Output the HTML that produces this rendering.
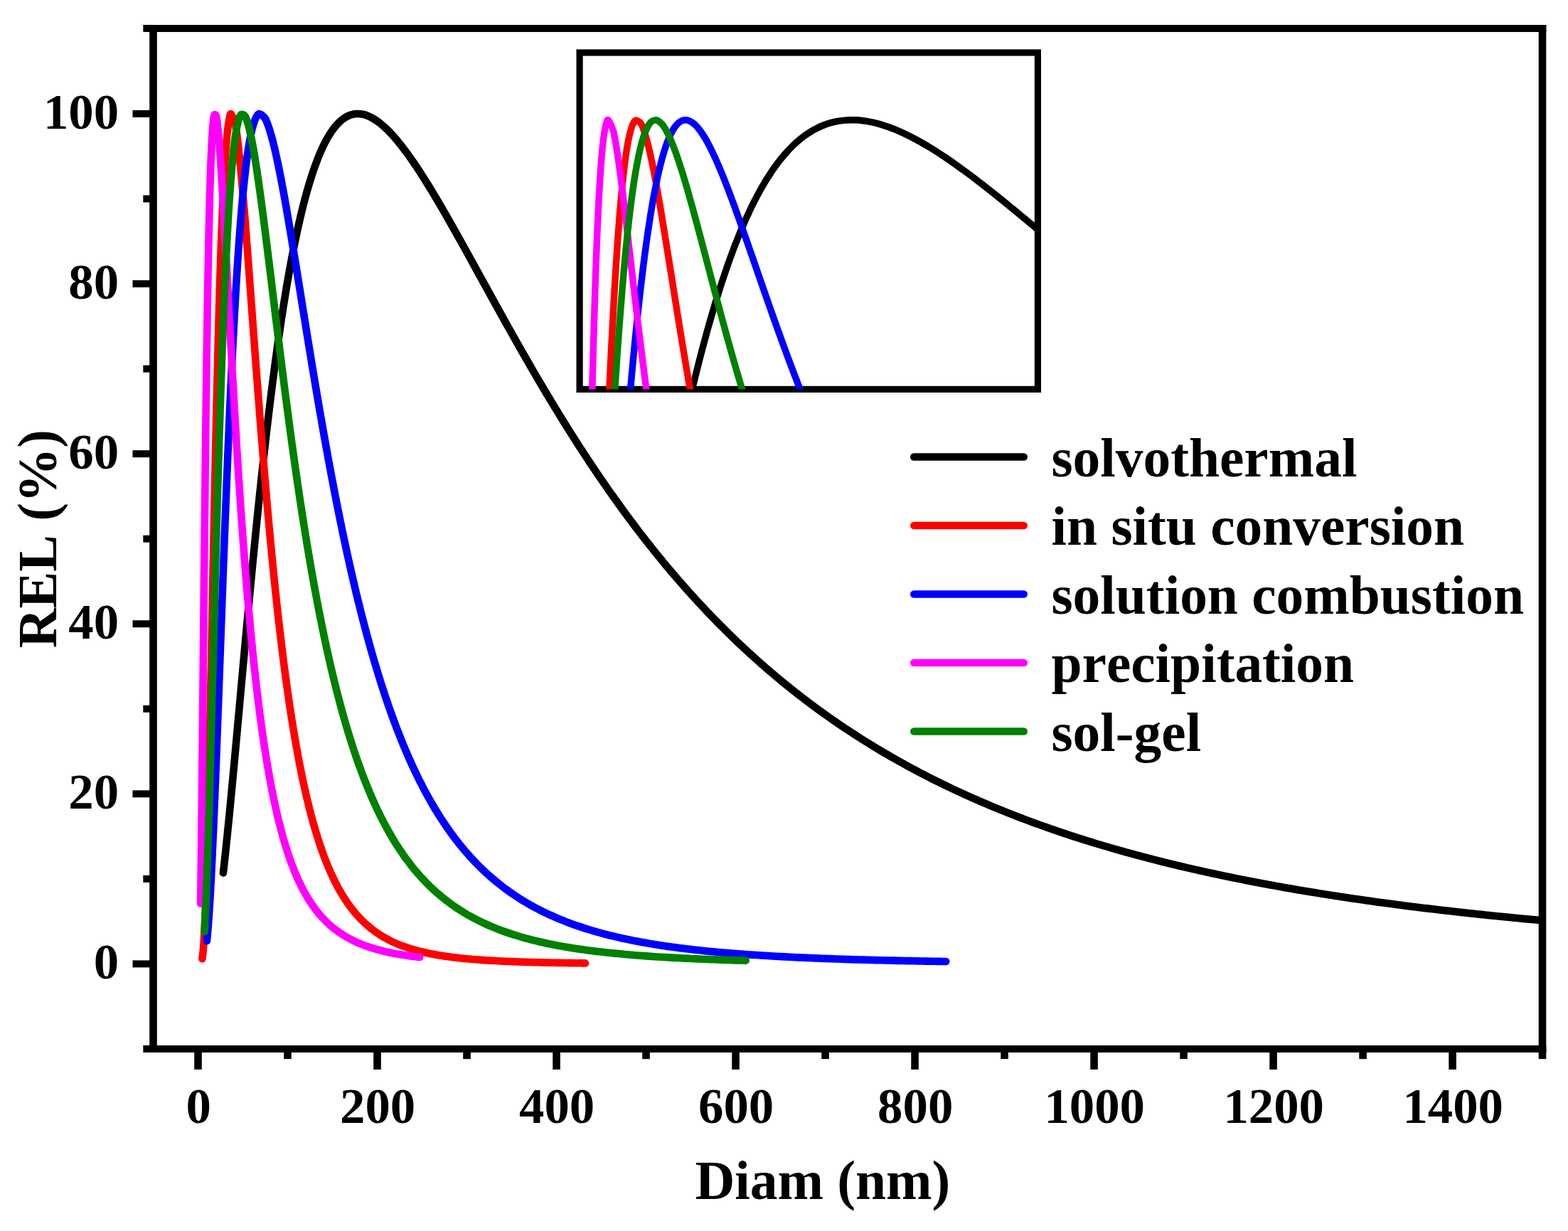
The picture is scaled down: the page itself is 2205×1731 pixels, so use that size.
<!DOCTYPE html>
<html lang="en">
<head>
<meta charset="utf-8">
<title>REL vs Diam</title>
<style>
html,body{margin:0;padding:0;background:#fff;}
body{width:2205px;height:1731px;overflow:hidden;}
svg{display:block;}
text{font-family:"Liberation Serif","Times New Roman",Times,serif;font-weight:bold;fill:#000;font-kerning:none;}
</style>
</head>
<body>
<svg width="2205" height="1731" viewBox="0 0 2205 1731">
<rect width="2205" height="1731" fill="#fff"/>
<defs>
<clipPath id="cm"><rect x="215.5" y="40.0" width="1953.5" height="1435.0"/></clipPath>
<clipPath id="ci"><rect x="815.1" y="74.0" width="644.3" height="473.4"/></clipPath>
</defs>
<g id="frame" stroke="#000" stroke-linecap="butt">
<line x1="210.20" y1="39.95" x2="2174.30" y2="39.95" stroke-width="10.00"/>
<line x1="210.20" y1="1474.94" x2="2174.30" y2="1474.94" stroke-width="10.00"/>
<line x1="215.50" y1="34.95" x2="215.50" y2="1479.94" stroke-width="10.60"/>
<line x1="2169.00" y1="34.95" x2="2169.00" y2="1479.94" stroke-width="10.60"/>
</g>
<g id="ticks" stroke="#000" stroke-linecap="butt">
<line x1="278.50" y1="1474.94" x2="278.50" y2="1503.94" stroke-width="10.60"/>
<line x1="404.51" y1="1474.94" x2="404.51" y2="1489.14" stroke-width="10.60"/>
<line x1="530.51" y1="1474.94" x2="530.51" y2="1503.94" stroke-width="10.60"/>
<line x1="656.52" y1="1474.94" x2="656.52" y2="1489.14" stroke-width="10.60"/>
<line x1="782.53" y1="1474.94" x2="782.53" y2="1503.94" stroke-width="10.60"/>
<line x1="908.53" y1="1474.94" x2="908.53" y2="1489.14" stroke-width="10.60"/>
<line x1="1034.54" y1="1474.94" x2="1034.54" y2="1503.94" stroke-width="10.60"/>
<line x1="1160.55" y1="1474.94" x2="1160.55" y2="1489.14" stroke-width="10.60"/>
<line x1="1286.56" y1="1474.94" x2="1286.56" y2="1503.94" stroke-width="10.60"/>
<line x1="1412.56" y1="1474.94" x2="1412.56" y2="1489.14" stroke-width="10.60"/>
<line x1="1538.57" y1="1474.94" x2="1538.57" y2="1503.94" stroke-width="10.60"/>
<line x1="1664.58" y1="1474.94" x2="1664.58" y2="1489.14" stroke-width="10.60"/>
<line x1="1790.58" y1="1474.94" x2="1790.58" y2="1503.94" stroke-width="10.60"/>
<line x1="1916.59" y1="1474.94" x2="1916.59" y2="1489.14" stroke-width="10.60"/>
<line x1="2042.60" y1="1474.94" x2="2042.60" y2="1503.94" stroke-width="10.60"/>
<line x1="2169.00" y1="1474.94" x2="2169.00" y2="1489.14" stroke-width="10.60"/>
<line x1="215.50" y1="1474.94" x2="201.30" y2="1474.94" stroke-width="10.00"/>
<line x1="215.50" y1="1355.40" x2="186.50" y2="1355.40" stroke-width="10.00"/>
<line x1="215.50" y1="1235.86" x2="201.30" y2="1235.86" stroke-width="10.00"/>
<line x1="215.50" y1="1116.32" x2="186.50" y2="1116.32" stroke-width="10.00"/>
<line x1="215.50" y1="996.78" x2="201.30" y2="996.78" stroke-width="10.00"/>
<line x1="215.50" y1="877.24" x2="186.50" y2="877.24" stroke-width="10.00"/>
<line x1="215.50" y1="757.70" x2="201.30" y2="757.70" stroke-width="10.00"/>
<line x1="215.50" y1="638.16" x2="186.50" y2="638.16" stroke-width="10.00"/>
<line x1="215.50" y1="518.62" x2="201.30" y2="518.62" stroke-width="10.00"/>
<line x1="215.50" y1="399.08" x2="186.50" y2="399.08" stroke-width="10.00"/>
<line x1="215.50" y1="279.54" x2="201.30" y2="279.54" stroke-width="10.00"/>
<line x1="215.50" y1="160.00" x2="186.50" y2="160.00" stroke-width="10.00"/>
<line x1="215.50" y1="39.95" x2="201.30" y2="39.95" stroke-width="10.00"/>
</g>
<g id="xlabels" font-size="70.8" text-anchor="middle">
<text x="279.1" y="1578.5">0</text>
<text x="531.1" y="1578.5">200</text>
<text x="783.1" y="1578.5">400</text>
<text x="1035.1" y="1578.5">600</text>
<text x="1287.2" y="1578.5">800</text>
<text x="1539.2" y="1578.5">1000</text>
<text x="1791.2" y="1578.5">1200</text>
<text x="2043.2" y="1578.5">1400</text>
</g>
<g id="ylabels" font-size="70.8" text-anchor="end">
<text x="167.1" y="1376.3">0</text>
<text x="167.1" y="1137.2">20</text>
<text x="167.1" y="898.1">40</text>
<text x="167.1" y="659.1">60</text>
<text x="167.1" y="420.0">80</text>
<text x="167.1" y="180.9">100</text>
</g>
<text id="xtitle" x="977.4" y="1685.7" font-size="77.4">Diam (nm)</text>
<text id="ytitle" transform="translate(79.1 911.3) rotate(-90)" font-size="77.4">REL (%)</text>
<g id="curves" fill="none" stroke-width="10.60" stroke-linecap="round" stroke-linejoin="round" clip-path="url(#cm)">
<path stroke="#000000" d="M313.92 1227.49C314.07 1226.15 314.53 1222.13 314.83 1219.46C315.13 1216.78 315.43 1214.10 315.72 1211.43C316.01 1208.75 316.31 1206.07 316.59 1203.40C316.88 1200.73 317.17 1198.05 317.45 1195.38C317.73 1192.71 318.02 1190.03 318.29 1187.36C318.57 1184.69 318.85 1182.02 319.13 1179.35C319.40 1176.68 319.67 1174.01 319.94 1171.34C320.22 1168.67 320.49 1166.00 320.75 1163.33C321.02 1160.67 321.29 1158.00 321.55 1155.33C321.82 1152.66 322.08 1150.00 322.35 1147.33C322.61 1144.66 322.87 1142.00 323.13 1139.33C323.39 1136.67 323.65 1134.00 323.91 1131.34C324.16 1128.67 324.42 1126.01 324.68 1123.34C324.93 1120.68 325.19 1118.01 325.44 1115.35C325.69 1112.69 325.95 1110.02 326.20 1107.36C326.45 1104.70 326.70 1102.04 326.95 1099.37C327.20 1096.71 327.45 1094.05 327.70 1091.39C327.95 1088.72 328.20 1086.06 328.45 1083.40C328.70 1080.74 328.95 1078.08 329.19 1075.42C329.44 1072.76 329.69 1070.10 329.93 1067.44C330.18 1064.78 330.42 1062.12 330.67 1059.46C330.91 1056.80 331.16 1054.14 331.40 1051.48C331.65 1048.82 331.89 1046.16 332.13 1043.50C332.38 1040.84 332.62 1038.18 332.86 1035.53C333.11 1032.87 333.35 1030.21 333.59 1027.55C333.84 1024.89 334.08 1022.24 334.32 1019.58C334.56 1016.92 334.80 1014.26 335.05 1011.61C335.29 1008.95 335.53 1006.29 335.77 1003.64C336.01 1000.98 336.25 998.32 336.50 995.67C336.74 993.01 336.98 990.35 337.22 987.70C337.46 985.04 337.70 982.39 337.94 979.73C338.18 977.07 338.43 974.42 338.67 971.76C338.91 969.11 339.15 966.45 339.39 963.80C339.63 961.14 339.87 958.49 340.11 955.83C340.36 953.18 340.60 950.53 340.84 947.87C341.08 945.22 341.32 942.56 341.57 939.91C341.81 937.26 342.05 934.60 342.29 931.95C342.53 929.29 342.78 926.64 343.02 923.99C343.26 921.34 343.51 918.68 343.75 916.03C343.99 913.38 344.24 910.72 344.48 908.07C344.72 905.42 344.97 902.77 345.21 900.11C345.46 897.46 345.70 894.81 345.94 892.16C346.19 889.51 346.44 886.86 346.68 884.20C346.93 881.55 347.17 878.90 347.42 876.25C347.66 873.60 347.91 870.95 348.16 868.30C348.41 865.65 348.65 863.00 348.90 860.35C349.15 857.70 349.40 855.05 349.65 852.40C349.90 849.75 350.14 847.10 350.39 844.45C350.64 841.80 350.89 839.15 351.15 836.50C351.40 833.85 351.65 831.20 351.90 828.55C352.15 825.90 352.40 823.25 352.66 820.60C352.91 817.96 353.16 815.31 353.42 812.66C353.67 810.01 353.93 807.36 354.18 804.71C354.44 802.07 354.69 799.42 354.95 796.77C355.21 794.12 355.46 791.48 355.72 788.83C355.98 786.18 356.24 783.54 356.50 780.89C356.76 778.24 357.02 775.60 357.28 772.95C357.54 770.30 357.80 767.66 358.06 765.01C358.32 762.37 358.59 759.72 358.85 757.07C359.11 754.43 359.38 751.78 359.64 749.14C359.91 746.49 360.17 743.85 360.44 741.20C360.71 738.56 360.98 735.92 361.25 733.27C361.51 730.63 361.78 727.98 362.05 725.34C362.32 722.70 362.60 720.05 362.87 717.41C363.14 714.77 363.41 712.12 363.69 709.48C363.96 706.84 364.24 704.19 364.52 701.55C364.79 698.91 365.07 696.27 365.35 693.63C365.63 690.98 365.91 688.34 366.19 685.70C366.47 683.06 366.75 680.42 367.03 677.78C367.31 675.14 367.60 672.50 367.88 669.86C368.17 667.22 368.46 664.58 368.74 661.94C369.03 659.30 369.32 656.66 369.61 654.02C369.90 651.38 370.19 648.74 370.48 646.10C370.78 643.46 371.07 640.82 371.36 638.18C371.66 635.55 371.96 632.91 372.25 630.27C372.55 627.63 372.85 625.00 373.15 622.36C373.45 619.72 373.75 617.09 374.06 614.45C374.36 611.81 374.67 609.18 374.97 606.54C375.28 603.91 375.59 601.27 375.90 598.64C376.21 596.00 376.52 593.37 376.83 590.73C377.15 588.10 377.46 585.47 377.78 582.83C378.09 580.20 378.41 577.57 378.73 574.93C379.05 572.30 379.37 569.67 379.70 567.04C380.02 564.41 380.34 561.78 380.67 559.14C381.00 556.51 381.33 553.88 381.66 551.25C381.99 548.62 382.32 545.99 382.66 543.36C382.99 540.74 383.33 538.11 383.67 535.48C384.01 532.85 384.35 530.22 384.69 527.60C385.04 524.97 385.38 522.34 385.73 519.71C386.08 517.09 386.43 514.46 386.78 511.84C387.13 509.21 387.49 506.59 387.84 503.96C388.20 501.34 388.56 498.72 388.92 496.09C389.29 493.47 389.65 490.85 390.02 488.23C390.39 485.61 390.76 482.98 391.13 480.36C391.50 477.74 391.88 475.12 392.26 472.50C392.63 469.89 393.02 467.27 393.40 464.65C393.79 462.03 394.17 459.42 394.56 456.80C394.95 454.18 395.35 451.57 395.74 448.95C396.14 446.34 396.54 443.73 396.95 441.11C397.35 438.50 397.76 435.89 398.17 433.28C398.58 430.67 398.99 428.06 399.41 425.45C399.83 422.84 400.25 420.23 400.68 417.62C401.10 415.01 401.53 412.41 401.97 409.80C402.40 407.20 402.84 404.59 403.28 401.99C403.72 399.39 404.17 396.79 404.62 394.18C405.07 391.58 405.53 388.98 405.99 386.39C406.45 383.79 406.92 381.19 407.39 378.60C407.86 376.00 408.33 373.41 408.81 370.82C409.30 368.22 409.78 365.63 410.27 363.04C410.77 360.45 411.26 357.87 411.77 355.28C412.27 352.69 412.78 350.11 413.30 347.53C413.82 344.95 414.34 342.37 414.87 339.79C415.40 337.21 415.93 334.63 416.48 332.06C417.02 329.49 417.57 326.91 418.13 324.34C418.69 321.78 419.26 319.21 419.83 316.64C420.41 314.08 420.99 311.52 421.58 308.96C422.17 306.40 422.77 303.85 423.39 301.30C424.00 298.74 424.62 296.20 425.25 293.65C425.88 291.11 426.52 288.56 427.17 286.03C427.83 283.49 428.49 280.96 429.17 278.43C429.84 275.90 430.53 273.38 431.23 270.86C431.94 268.34 432.65 265.82 433.38 263.32C434.11 260.81 434.86 258.31 435.62 255.81C436.38 253.32 437.16 250.83 437.96 248.35C438.75 245.87 439.57 243.40 440.40 240.93C441.24 238.47 442.09 236.02 442.97 233.57C443.85 231.13 444.75 228.70 445.68 226.28C446.60 223.86 447.55 221.45 448.54 219.06C449.52 216.67 450.53 214.29 451.57 211.94C452.62 209.58 453.70 207.24 454.82 204.93C455.94 202.62 457.09 200.32 458.30 198.06C459.51 195.81 460.76 193.57 462.07 191.38C463.38 189.20 464.73 187.04 466.17 184.95C467.60 182.85 469.09 180.80 470.68 178.83C472.26 176.87 473.91 174.95 475.68 173.16C477.44 171.38 479.29 169.65 481.27 168.12C483.26 166.59 485.35 165.15 487.57 163.99C489.80 162.82 492.17 161.80 494.63 161.14C497.09 160.48 499.73 160.06 502.34 160.01C504.96 159.95 507.71 160.25 510.34 160.80C512.98 161.35 515.63 162.27 518.16 163.32C520.69 164.37 523.15 165.70 525.52 167.11C527.89 168.52 530.17 170.11 532.38 171.75C534.59 173.39 536.71 175.16 538.78 176.96C540.85 178.76 542.84 180.65 544.80 182.57C546.75 184.48 548.64 186.45 550.50 188.45C552.35 190.44 554.16 192.48 555.94 194.54C557.71 196.60 559.45 198.69 561.16 200.79C562.87 202.89 564.55 205.02 566.20 207.17C567.86 209.31 569.48 211.47 571.09 213.64C572.69 215.81 574.28 218.00 575.84 220.20C577.41 222.40 578.95 224.61 580.48 226.83C582.01 229.05 583.52 231.27 585.02 233.51C586.52 235.75 588.00 237.99 589.47 240.24C590.94 242.49 592.40 244.75 593.85 247.01C595.29 249.28 596.73 251.55 598.16 253.82C599.58 256.10 601.00 258.38 602.41 260.66C603.81 262.94 605.21 265.23 606.60 267.52C607.99 269.82 609.38 272.11 610.75 274.41C612.13 276.71 613.50 279.01 614.86 281.32C616.22 283.62 617.58 285.93 618.93 288.24C620.28 290.55 621.63 292.87 622.97 295.18C624.31 297.50 625.65 299.82 626.98 302.13C628.31 304.45 629.64 306.78 630.97 309.10C632.29 311.42 633.61 313.75 634.93 316.07C636.25 318.40 637.56 320.73 638.87 323.05C640.18 325.38 641.49 327.71 642.80 330.04C644.10 332.37 645.40 334.71 646.71 337.04C648.01 339.37 649.31 341.70 650.60 344.04C651.90 346.37 653.19 348.71 654.49 351.04C655.78 353.38 657.07 355.71 658.37 358.05C659.66 360.38 660.95 362.72 662.24 365.06C663.53 367.39 664.81 369.73 666.10 372.07C667.39 374.40 668.67 376.74 669.96 379.08C671.25 381.41 672.53 383.75 673.82 386.09C675.10 388.42 676.39 390.76 677.67 393.10C678.96 395.43 680.25 397.77 681.53 400.10C682.82 402.44 684.10 404.78 685.39 407.11C686.67 409.45 687.96 411.78 689.25 414.12C690.53 416.45 691.82 418.78 693.11 421.12C694.40 423.45 695.69 425.78 696.98 428.11C698.27 430.45 699.56 432.78 700.85 435.11C702.14 437.44 703.43 439.77 704.73 442.10C706.02 444.42 707.32 446.75 708.61 449.08C709.91 451.41 711.21 453.73 712.51 456.06C713.80 458.38 715.11 460.71 716.41 463.03C717.71 465.35 719.01 467.68 720.32 470.00C721.63 472.32 722.93 474.64 724.24 476.96C725.55 479.28 726.86 481.59 728.18 483.91C729.49 486.23 730.80 488.54 732.12 490.85C733.44 493.17 734.76 495.48 736.08 497.79C737.40 500.10 738.72 502.41 740.05 504.72C741.38 507.03 742.70 509.33 744.04 511.64C745.37 513.94 746.70 516.25 748.04 518.55C749.37 520.85 750.71 523.15 752.05 525.45C753.39 527.75 754.74 530.05 756.08 532.34C757.43 534.64 758.78 536.93 760.13 539.22C761.48 541.51 762.84 543.80 764.20 546.09C765.55 548.38 766.92 550.67 768.28 552.95C769.64 555.23 771.01 557.52 772.38 559.80C773.75 562.08 775.12 564.36 776.50 566.63C777.88 568.91 779.26 571.18 780.64 573.46C782.03 575.73 783.41 578.00 784.80 580.27C786.19 582.53 787.59 584.80 788.98 587.06C790.38 589.33 791.78 591.59 793.18 593.85C794.59 596.11 796.00 598.36 797.41 600.62C798.82 602.87 800.24 605.12 801.65 607.37C803.07 609.62 804.50 611.87 805.92 614.11C807.35 616.36 808.78 618.60 810.22 620.84C811.65 623.08 813.09 625.31 814.53 627.55C815.97 629.78 817.42 632.01 818.87 634.24C820.32 636.47 821.78 638.69 823.24 640.92C824.69 643.14 826.16 645.36 827.63 647.58C829.09 649.79 830.57 652.01 832.04 654.22C833.52 656.43 835.00 658.64 836.48 660.84C837.97 663.05 839.46 665.25 840.95 667.45C842.45 669.65 843.94 671.85 845.45 674.04C846.95 676.23 848.46 678.42 849.97 680.61C851.48 682.79 853.00 684.98 854.52 687.16C856.04 689.34 857.57 691.51 859.10 693.69C860.63 695.86 862.17 698.03 863.71 700.19C865.25 702.36 866.80 704.52 868.35 706.68C869.90 708.84 871.45 711.00 873.01 713.15C874.58 715.30 876.14 717.45 877.71 719.59C879.28 721.73 880.86 723.88 882.44 726.01C884.02 728.15 885.61 730.28 887.20 732.41C888.79 734.54 890.39 736.66 891.99 738.78C893.59 740.91 895.20 743.02 896.81 745.14C898.42 747.25 900.04 749.36 901.66 751.46C903.29 753.57 904.92 755.67 906.55 757.76C908.18 759.86 909.82 761.95 911.47 764.04C913.11 766.13 914.76 768.21 916.42 770.29C918.08 772.37 919.74 774.44 921.40 776.51C923.07 778.58 924.74 780.64 926.42 782.71C928.10 784.77 929.79 786.82 931.48 788.87C933.17 790.92 934.86 792.97 936.56 795.01C938.26 797.05 939.97 799.09 941.68 801.12C943.40 803.15 945.12 805.18 946.84 807.20C948.56 809.23 950.30 811.24 952.03 813.26C953.77 815.27 955.51 817.27 957.26 819.28C959.01 821.28 960.76 823.27 962.52 825.27C964.28 827.26 966.05 829.24 967.82 831.22C969.59 833.20 971.37 835.18 973.15 837.15C974.94 839.12 976.73 841.08 978.52 843.04C980.32 845.00 982.12 846.96 983.93 848.90C985.74 850.85 987.55 852.79 989.37 854.73C991.19 856.67 993.02 858.60 994.85 860.52C996.68 862.45 998.52 864.37 1000.37 866.28C1002.21 868.19 1004.06 870.10 1005.92 872.00C1007.78 873.90 1009.64 875.80 1011.51 877.69C1013.38 879.58 1015.26 881.46 1017.14 883.34C1019.02 885.21 1020.91 887.08 1022.80 888.95C1024.70 890.81 1026.60 892.67 1028.50 894.52C1030.41 896.38 1032.32 898.22 1034.24 900.06C1036.16 901.90 1038.09 903.73 1040.02 905.56C1041.95 907.38 1043.89 909.20 1045.83 911.02C1047.77 912.83 1049.72 914.64 1051.68 916.44C1053.64 918.24 1055.60 920.03 1057.57 921.82C1059.54 923.60 1061.51 925.38 1063.49 927.15C1065.47 928.93 1067.46 930.69 1069.45 932.45C1071.45 934.21 1073.45 935.96 1075.45 937.71C1077.46 939.45 1079.47 941.19 1081.49 942.92C1083.51 944.65 1085.53 946.38 1087.56 948.09C1089.59 949.81 1091.63 951.52 1093.67 953.22C1095.71 954.93 1097.76 956.62 1099.81 958.31C1101.87 960.00 1103.93 961.68 1105.99 963.35C1108.06 965.03 1110.13 966.69 1112.21 968.35C1114.29 970.01 1116.37 971.66 1118.46 973.31C1120.55 974.95 1122.65 976.59 1124.75 978.21C1126.85 979.84 1128.96 981.47 1131.07 983.08C1133.19 984.69 1135.31 986.30 1137.43 987.90C1139.56 989.50 1141.69 991.09 1143.83 992.67C1145.96 994.26 1148.10 995.83 1150.25 997.40C1152.40 998.97 1154.55 1000.53 1156.71 1002.08C1158.87 1003.63 1161.04 1005.18 1163.21 1006.72C1165.38 1008.25 1167.56 1009.78 1169.74 1011.31C1171.92 1012.83 1174.11 1014.34 1176.30 1015.85C1178.49 1017.35 1180.69 1018.85 1182.89 1020.34C1185.10 1021.83 1187.30 1023.32 1189.52 1024.79C1191.73 1026.27 1193.95 1027.73 1196.18 1029.19C1198.40 1030.65 1200.63 1032.10 1202.87 1033.55C1205.10 1034.99 1207.34 1036.42 1209.59 1037.85C1211.83 1039.28 1214.08 1040.70 1216.34 1042.11C1218.59 1043.52 1220.85 1044.92 1223.12 1046.32C1225.39 1047.72 1227.66 1049.10 1229.93 1050.48C1232.21 1051.86 1234.49 1053.24 1236.77 1054.60C1239.06 1055.96 1241.35 1057.32 1243.64 1058.67C1245.93 1060.02 1248.23 1061.36 1250.54 1062.69C1252.84 1064.02 1255.15 1065.35 1257.46 1066.66C1259.78 1067.98 1262.09 1069.29 1264.42 1070.59C1266.74 1071.89 1269.06 1073.18 1271.40 1074.47C1273.73 1075.75 1276.06 1077.03 1278.40 1078.30C1280.74 1079.57 1283.09 1080.83 1285.43 1082.08C1287.78 1083.34 1290.13 1084.58 1292.49 1085.82C1294.85 1087.06 1297.21 1088.29 1299.57 1089.51C1301.94 1090.73 1304.31 1091.95 1306.68 1093.15C1309.05 1094.36 1311.43 1095.56 1313.81 1096.75C1316.19 1097.94 1318.58 1099.13 1320.96 1100.30C1323.35 1101.48 1325.75 1102.65 1328.14 1103.81C1330.54 1104.97 1332.94 1106.12 1335.34 1107.27C1337.75 1108.41 1340.15 1109.55 1342.56 1110.68C1344.97 1111.81 1347.39 1112.94 1349.81 1114.05C1352.22 1115.17 1354.65 1116.27 1357.07 1117.38C1359.50 1118.48 1361.92 1119.57 1364.36 1120.65C1366.79 1121.74 1369.22 1122.82 1371.66 1123.89C1374.10 1124.96 1376.54 1126.03 1378.98 1127.08C1381.43 1128.14 1383.88 1129.19 1386.33 1130.23C1388.78 1131.27 1391.23 1132.31 1393.69 1133.33C1396.15 1134.36 1398.61 1135.38 1401.07 1136.40C1403.53 1137.41 1406.00 1138.42 1408.47 1139.42C1410.94 1140.42 1413.41 1141.41 1415.88 1142.39C1418.36 1143.38 1420.84 1144.36 1423.32 1145.33C1425.80 1146.30 1428.28 1147.26 1430.77 1148.22C1433.25 1149.18 1435.74 1150.13 1438.23 1151.08C1440.72 1152.02 1443.21 1152.96 1445.71 1153.89C1448.21 1154.82 1450.71 1155.74 1453.21 1156.66C1455.71 1157.58 1458.21 1158.49 1460.72 1159.39C1463.22 1160.30 1465.73 1161.20 1468.24 1162.09C1470.75 1162.98 1473.27 1163.87 1475.78 1164.74C1478.30 1165.62 1480.81 1166.49 1483.33 1167.36C1485.85 1168.23 1488.37 1169.09 1490.90 1169.94C1493.42 1170.79 1495.95 1171.64 1498.48 1172.48C1501.01 1173.32 1503.54 1174.16 1506.07 1174.99C1508.60 1175.81 1511.14 1176.64 1513.67 1177.45C1516.21 1178.27 1518.75 1179.08 1521.29 1179.88C1523.83 1180.69 1526.37 1181.49 1528.91 1182.28C1531.46 1183.07 1534.00 1183.86 1536.55 1184.64C1539.10 1185.42 1541.65 1186.20 1544.20 1186.97C1546.75 1187.74 1549.30 1188.50 1551.86 1189.26C1554.41 1190.02 1556.97 1190.77 1559.53 1191.52C1562.09 1192.26 1564.65 1193.00 1567.21 1193.74C1569.77 1194.48 1572.33 1195.21 1574.90 1195.93C1577.46 1196.66 1580.03 1197.37 1582.60 1198.09C1585.16 1198.80 1587.73 1199.51 1590.30 1200.22C1592.87 1200.92 1595.45 1201.62 1598.02 1202.31C1600.59 1203.00 1603.17 1203.69 1605.74 1204.37C1608.32 1205.06 1610.90 1205.73 1613.48 1206.41C1616.06 1207.08 1618.64 1207.75 1621.22 1208.41C1623.80 1209.07 1626.38 1209.73 1628.97 1210.38C1631.55 1211.03 1634.14 1211.68 1636.72 1212.32C1639.31 1212.97 1641.90 1213.60 1644.49 1214.24C1647.08 1214.87 1649.67 1215.50 1652.26 1216.12C1654.85 1216.75 1657.44 1217.37 1660.04 1217.98C1662.63 1218.59 1665.23 1219.20 1667.82 1219.81C1670.42 1220.41 1673.01 1221.02 1675.61 1221.61C1678.21 1222.21 1680.81 1222.80 1683.41 1223.39C1686.01 1223.97 1688.61 1224.56 1691.21 1225.13C1693.82 1225.71 1696.42 1226.29 1699.02 1226.86C1701.63 1227.43 1704.23 1227.99 1706.84 1228.55C1709.44 1229.11 1712.05 1229.67 1714.66 1230.22C1717.27 1230.78 1719.88 1231.33 1722.48 1231.87C1725.09 1232.41 1727.70 1232.95 1730.32 1233.49C1732.93 1234.03 1735.54 1234.56 1738.15 1235.09C1740.77 1235.62 1743.38 1236.14 1745.99 1236.66C1748.61 1237.18 1751.22 1237.70 1753.84 1238.21C1756.46 1238.72 1759.07 1239.23 1761.69 1239.74C1764.31 1240.24 1766.93 1240.74 1769.55 1241.24C1772.16 1241.74 1774.78 1242.23 1777.40 1242.72C1780.03 1243.21 1782.65 1243.70 1785.27 1244.18C1787.89 1244.67 1790.51 1245.14 1793.14 1245.62C1795.76 1246.10 1798.38 1246.57 1801.01 1247.04C1803.63 1247.51 1806.26 1247.97 1808.88 1248.43C1811.51 1248.89 1814.14 1249.35 1816.76 1249.81C1819.39 1250.26 1822.02 1250.71 1824.65 1251.16C1827.27 1251.61 1829.90 1252.05 1832.53 1252.50C1835.16 1252.94 1837.79 1253.37 1840.42 1253.81C1843.05 1254.24 1845.68 1254.68 1848.31 1255.10C1850.95 1255.53 1853.58 1255.96 1856.21 1256.38C1858.84 1256.80 1861.48 1257.22 1864.11 1257.64C1866.74 1258.05 1869.38 1258.47 1872.01 1258.88C1874.65 1259.29 1877.28 1259.69 1879.92 1260.10C1882.55 1260.50 1885.19 1260.90 1887.82 1261.30C1890.46 1261.70 1893.10 1262.09 1895.73 1262.48C1898.37 1262.88 1901.01 1263.27 1903.65 1263.65C1906.29 1264.04 1908.92 1264.42 1911.56 1264.80C1914.20 1265.18 1916.84 1265.56 1919.48 1265.94C1922.12 1266.31 1924.76 1266.68 1927.40 1267.05C1930.04 1267.42 1932.68 1267.79 1935.32 1268.15C1937.96 1268.52 1940.61 1268.88 1943.25 1269.24C1945.89 1269.60 1948.53 1269.96 1951.18 1270.31C1953.82 1270.66 1956.46 1271.01 1959.11 1271.36C1961.75 1271.71 1964.39 1272.06 1967.04 1272.40C1969.68 1272.75 1972.32 1273.09 1974.97 1273.42C1977.61 1273.76 1980.26 1274.10 1982.90 1274.43C1985.55 1274.77 1988.20 1275.10 1990.84 1275.43C1993.49 1275.76 1996.13 1276.08 1998.78 1276.41C2001.43 1276.73 2004.07 1277.05 2006.72 1277.37C2009.37 1277.69 2012.02 1278.01 2014.66 1278.33C2017.31 1278.64 2019.96 1278.95 2022.61 1279.26C2025.26 1279.58 2027.90 1279.88 2030.55 1280.19C2033.20 1280.50 2035.85 1280.80 2038.50 1281.10C2041.15 1281.40 2043.80 1281.70 2046.45 1282.00C2049.10 1282.30 2051.75 1282.59 2054.40 1282.89C2057.05 1283.18 2059.70 1283.47 2062.35 1283.76C2065.00 1284.05 2067.65 1284.34 2070.30 1284.62C2072.95 1284.91 2075.61 1285.19 2078.26 1285.47C2080.91 1285.75 2083.56 1286.03 2086.21 1286.31C2088.86 1286.59 2091.52 1286.86 2094.17 1287.13C2096.82 1287.41 2099.47 1287.68 2102.13 1287.95C2104.78 1288.22 2107.43 1288.48 2110.09 1288.75C2112.74 1289.02 2115.39 1289.28 2118.05 1289.54C2120.70 1289.80 2123.35 1290.06 2126.01 1290.32C2128.66 1290.58 2131.32 1290.84 2133.97 1291.09C2136.62 1291.34 2139.28 1291.60 2141.93 1291.85C2144.59 1292.10 2147.24 1292.35 2149.90 1292.60C2152.55 1292.84 2155.21 1293.09 2157.86 1293.33C2160.52 1293.58 2164.04 1293.90 2165.83 1294.06C2167.62 1294.22 2168.14 1294.27 2168.61 1294.31"/>
<path stroke="#ff0000" d="M284.41 1348.23C284.63 1346.35 285.39 1340.36 285.73 1336.96C286.07 1333.56 286.22 1330.80 286.43 1327.83C286.64 1324.86 286.81 1321.99 286.97 1319.11C287.14 1316.24 287.29 1313.41 287.43 1310.59C287.58 1307.76 287.71 1304.97 287.84 1302.17C287.97 1299.38 288.09 1296.61 288.20 1293.84C288.32 1291.07 288.43 1288.31 288.54 1285.55C288.65 1282.80 288.75 1280.05 288.85 1277.31C288.95 1274.57 289.05 1271.83 289.15 1269.10C289.24 1266.36 289.33 1263.63 289.43 1260.91C289.52 1258.18 289.61 1255.46 289.69 1252.74C289.78 1250.02 289.86 1247.31 289.95 1244.59C290.03 1241.88 290.11 1239.16 290.19 1236.45C290.28 1233.74 290.35 1231.04 290.43 1228.33C290.51 1225.62 290.59 1222.92 290.66 1220.22C290.74 1217.51 290.81 1214.81 290.89 1212.11C290.96 1209.41 291.03 1206.72 291.11 1204.02C291.18 1201.32 291.25 1198.62 291.32 1195.93C291.39 1193.23 291.46 1190.54 291.53 1187.85C291.59 1185.15 291.66 1182.46 291.73 1179.77C291.80 1177.08 291.86 1174.39 291.93 1171.70C292.00 1169.01 292.06 1166.32 292.13 1163.64C292.19 1160.95 292.26 1158.26 292.32 1155.58C292.38 1152.89 292.45 1150.20 292.51 1147.52C292.57 1144.83 292.63 1142.15 292.70 1139.47C292.76 1136.78 292.82 1134.10 292.88 1131.42C292.94 1128.73 293.00 1126.05 293.06 1123.37C293.12 1120.69 293.18 1118.01 293.24 1115.33C293.30 1112.65 293.36 1109.97 293.42 1107.29C293.48 1104.61 293.54 1101.93 293.60 1099.25C293.66 1096.57 293.72 1093.89 293.77 1091.21C293.83 1088.53 293.89 1085.86 293.95 1083.18C294.00 1080.50 294.06 1077.83 294.12 1075.15C294.17 1072.47 294.23 1069.80 294.29 1067.12C294.34 1064.44 294.40 1061.77 294.46 1059.09C294.51 1056.42 294.57 1053.74 294.62 1051.07C294.68 1048.39 294.74 1045.72 294.79 1043.05C294.85 1040.37 294.90 1037.70 294.96 1035.02C295.01 1032.35 295.07 1029.68 295.12 1027.00C295.18 1024.33 295.23 1021.66 295.28 1018.99C295.34 1016.31 295.39 1013.64 295.45 1010.97C295.50 1008.30 295.56 1005.63 295.61 1002.95C295.66 1000.28 295.72 997.61 295.77 994.94C295.82 992.27 295.88 989.60 295.93 986.93C295.99 984.26 296.04 981.59 296.09 978.92C296.15 976.25 296.20 973.58 296.25 970.91C296.30 968.24 296.36 965.57 296.41 962.90C296.46 960.23 296.52 957.56 296.57 954.89C296.62 952.22 296.68 949.55 296.73 946.89C296.78 944.22 296.83 941.55 296.89 938.88C296.94 936.21 296.99 933.54 297.04 930.88C297.10 928.21 297.15 925.54 297.20 922.87C297.26 920.21 297.31 917.54 297.36 914.87C297.41 912.20 297.47 909.54 297.52 906.87C297.57 904.20 297.62 901.54 297.68 898.87C297.73 896.20 297.78 893.54 297.83 890.87C297.89 888.21 297.94 885.54 297.99 882.87C298.04 880.21 298.10 877.54 298.15 874.88C298.20 872.21 298.25 869.55 298.31 866.88C298.36 864.22 298.41 861.55 298.46 858.89C298.52 856.22 298.57 853.56 298.62 850.89C298.67 848.23 298.73 845.56 298.78 842.90C298.83 840.23 298.88 837.57 298.94 834.91C298.99 832.24 299.04 829.58 299.09 826.91C299.15 824.25 299.20 821.59 299.25 818.92C299.31 816.26 299.36 813.60 299.41 810.93C299.46 808.27 299.52 805.61 299.57 802.94C299.62 800.28 299.68 797.62 299.73 794.96C299.78 792.29 299.84 789.63 299.89 786.97C299.94 784.31 300.00 781.64 300.05 778.98C300.10 776.32 300.16 773.66 300.21 771.00C300.27 768.33 300.32 765.67 300.37 763.01C300.43 760.35 300.48 757.69 300.54 755.03C300.59 752.36 300.64 749.70 300.70 747.04C300.75 744.38 300.81 741.72 300.86 739.06C300.92 736.40 300.97 733.74 301.03 731.08C301.08 728.42 301.13 725.76 301.19 723.10C301.24 720.44 301.30 717.78 301.36 715.12C301.41 712.46 301.47 709.80 301.52 707.14C301.58 704.48 301.63 701.82 301.69 699.16C301.74 696.50 301.80 693.84 301.86 691.18C301.91 688.52 301.97 685.87 302.02 683.21C302.08 680.55 302.14 677.89 302.19 675.23C302.25 672.57 302.31 669.91 302.36 667.26C302.42 664.60 302.48 661.94 302.54 659.28C302.59 656.62 302.65 653.97 302.71 651.31C302.77 648.65 302.82 645.99 302.88 643.34C302.94 640.68 303.00 638.02 303.06 635.37C303.12 632.71 303.17 630.05 303.23 627.40C303.29 624.74 303.35 622.08 303.41 619.43C303.47 616.77 303.53 614.12 303.59 611.46C303.65 608.80 303.71 606.15 303.77 603.49C303.83 600.84 303.89 598.18 303.95 595.53C304.01 592.87 304.07 590.22 304.13 587.56C304.20 584.91 304.26 582.25 304.32 579.60C304.38 576.94 304.44 574.29 304.50 571.64C304.57 568.98 304.63 566.33 304.69 563.67C304.76 561.02 304.82 558.37 304.88 555.71C304.95 553.06 305.01 550.41 305.07 547.75C305.14 545.10 305.20 542.45 305.27 539.80C305.33 537.14 305.40 534.49 305.46 531.84C305.53 529.19 305.59 526.54 305.66 523.89C305.72 521.23 305.79 518.58 305.86 515.93C305.92 513.28 305.99 510.63 306.06 507.98C306.13 505.33 306.19 502.68 306.26 500.03C306.33 497.38 306.40 494.73 306.47 492.08C306.54 489.43 306.61 486.78 306.68 484.13C306.75 481.48 306.82 478.83 306.89 476.18C306.96 473.54 307.03 470.89 307.10 468.24C307.18 465.59 307.25 462.95 307.32 460.30C307.39 457.65 307.47 455.00 307.54 452.36C307.61 449.71 307.69 447.06 307.76 444.42C307.84 441.77 307.91 439.13 307.99 436.48C308.07 433.84 308.14 431.19 308.22 428.55C308.30 425.90 308.38 423.26 308.45 420.62C308.53 417.97 308.61 415.33 308.69 412.69C308.77 410.04 308.85 407.40 308.93 404.76C309.01 402.12 309.10 399.48 309.18 396.83C309.26 394.19 309.34 391.55 309.43 388.91C309.51 386.27 309.60 383.63 309.68 380.99C309.77 378.35 309.86 375.72 309.94 373.08C310.03 370.44 310.12 367.80 310.21 365.17C310.30 362.53 310.39 359.89 310.48 357.26C310.57 354.62 310.66 351.99 310.76 349.35C310.85 346.72 310.95 344.09 311.04 341.45C311.14 338.82 311.23 336.19 311.33 333.56C311.43 330.93 311.53 328.30 311.63 325.67C311.73 323.04 311.83 320.41 311.94 317.78C312.04 315.16 312.15 312.53 312.25 309.90C312.36 307.28 312.47 304.66 312.58 302.03C312.69 299.41 312.80 296.79 312.91 294.17C313.02 291.55 313.14 288.93 313.25 286.31C313.37 283.69 313.49 281.08 313.61 278.46C313.73 275.85 313.86 273.24 313.98 270.62C314.11 268.01 314.24 265.40 314.37 262.80C314.50 260.19 314.63 257.59 314.77 254.99C314.91 252.38 315.05 249.78 315.19 247.19C315.33 244.59 315.48 242.00 315.63 239.41C315.78 236.82 315.94 234.23 316.10 231.65C316.26 229.07 316.42 226.49 316.59 223.91C316.76 221.34 316.94 218.77 317.12 216.21C317.30 213.65 317.49 211.10 317.69 208.55C317.88 206.01 318.09 203.47 318.30 200.94C318.52 198.41 318.74 195.90 318.98 193.40C319.22 190.90 319.46 188.41 319.74 185.96C320.01 183.50 320.29 181.05 320.61 178.67C320.92 176.28 321.25 173.89 321.65 171.64C322.04 169.39 322.42 167.03 322.98 165.15C323.54 163.27 323.71 158.85 325.01 160.36C326.30 161.87 329.55 170.44 330.75 174.22C331.95 177.99 331.77 180.13 332.21 183.01C332.66 185.88 333.03 188.67 333.41 191.47C333.78 194.27 334.12 197.03 334.46 199.79C334.80 202.55 335.11 205.29 335.42 208.03C335.73 210.77 336.03 213.50 336.32 216.22C336.61 218.94 336.89 221.66 337.16 224.37C337.44 227.09 337.70 229.79 337.97 232.50C338.23 235.20 338.49 237.90 338.74 240.60C339.00 243.30 339.25 246.00 339.49 248.69C339.74 251.38 339.98 254.07 340.22 256.76C340.46 259.45 340.69 262.14 340.93 264.83C341.16 267.51 341.39 270.20 341.62 272.88C341.85 275.56 342.07 278.24 342.30 280.92C342.52 283.60 342.74 286.28 342.96 288.96C343.18 291.64 343.40 294.32 343.62 296.99C343.84 299.67 344.05 302.34 344.26 305.02C344.48 307.69 344.69 310.37 344.90 313.04C345.11 315.71 345.32 318.38 345.53 321.06C345.74 323.73 345.95 326.40 346.16 329.07C346.37 331.74 346.57 334.41 346.78 337.08C346.98 339.75 347.19 342.42 347.39 345.08C347.60 347.75 347.80 350.42 348.00 353.09C348.20 355.75 348.41 358.42 348.61 361.09C348.81 363.75 349.01 366.42 349.21 369.08C349.41 371.75 349.61 374.41 349.81 377.08C350.01 379.74 350.21 382.41 350.41 385.07C350.60 387.73 350.80 390.40 351.00 393.06C351.20 395.72 351.40 398.38 351.59 401.05C351.79 403.71 351.99 406.37 352.19 409.03C352.38 411.69 352.58 414.36 352.78 417.02C352.97 419.68 353.17 422.34 353.37 425.00C353.56 427.66 353.76 430.32 353.96 432.98C354.15 435.64 354.35 438.30 354.54 440.96C354.74 443.62 354.94 446.28 355.13 448.93C355.33 451.59 355.53 454.25 355.72 456.91C355.92 459.57 356.12 462.23 356.31 464.88C356.51 467.54 356.71 470.20 356.90 472.86C357.10 475.51 357.30 478.17 357.49 480.83C357.69 483.48 357.89 486.14 358.09 488.80C358.28 491.45 358.48 494.11 358.68 496.77C358.88 499.42 359.08 502.08 359.28 504.73C359.47 507.39 359.67 510.04 359.87 512.70C360.07 515.35 360.27 518.01 360.47 520.66C360.67 523.32 360.87 525.97 361.07 528.62C361.27 531.28 361.47 533.93 361.68 536.59C361.88 539.24 362.08 541.89 362.28 544.55C362.48 547.20 362.69 549.85 362.89 552.50C363.09 555.16 363.30 557.81 363.50 560.46C363.70 563.11 363.91 565.77 364.11 568.42C364.32 571.07 364.52 573.72 364.73 576.37C364.94 579.03 365.14 581.68 365.35 584.33C365.56 586.98 365.77 589.63 365.97 592.28C366.18 594.93 366.39 597.58 366.60 600.23C366.81 602.88 367.02 605.53 367.23 608.18C367.44 610.83 367.66 613.48 367.87 616.13C368.08 618.78 368.29 621.43 368.51 624.08C368.72 626.73 368.93 629.38 369.15 632.02C369.37 634.67 369.58 637.32 369.80 639.97C370.01 642.62 370.23 645.27 370.45 647.91C370.67 650.56 370.89 653.21 371.11 655.86C371.33 658.50 371.55 661.15 371.77 663.80C371.99 666.44 372.22 669.09 372.44 671.74C372.66 674.38 372.89 677.03 373.11 679.67C373.34 682.32 373.56 684.96 373.79 687.61C374.02 690.26 374.25 692.90 374.48 695.55C374.71 698.19 374.94 700.83 375.17 703.48C375.40 706.12 375.63 708.77 375.87 711.41C376.10 714.06 376.33 716.70 376.57 719.34C376.81 721.99 377.04 724.63 377.28 727.27C377.52 729.91 377.76 732.56 378.00 735.20C378.24 737.84 378.48 740.48 378.72 743.12C378.97 745.77 379.21 748.41 379.46 751.05C379.70 753.69 379.95 756.33 380.20 758.97C380.45 761.61 380.69 764.25 380.95 766.89C381.20 769.53 381.45 772.17 381.70 774.81C381.96 777.45 382.21 780.09 382.47 782.73C382.72 785.37 382.98 788.00 383.24 790.64C383.50 793.28 383.76 795.92 384.03 798.56C384.29 801.19 384.55 803.83 384.82 806.47C385.09 809.10 385.35 811.74 385.62 814.38C385.89 817.01 386.16 819.65 386.44 822.28C386.71 824.92 386.98 827.55 387.26 830.19C387.54 832.82 387.82 835.46 388.10 838.09C388.38 840.72 388.66 843.36 388.94 845.99C389.23 848.62 389.51 851.26 389.80 853.89C390.09 856.52 390.38 859.15 390.67 861.78C390.96 864.41 391.26 867.04 391.55 869.67C391.85 872.30 392.15 874.93 392.45 877.56C392.75 880.19 393.05 882.82 393.36 885.45C393.67 888.08 393.97 890.71 394.28 893.33C394.59 895.96 394.91 898.59 395.22 901.21C395.54 903.84 395.86 906.47 396.18 909.09C396.50 911.72 396.82 914.34 397.15 916.97C397.47 919.59 397.80 922.21 398.13 924.84C398.46 927.46 398.80 930.08 399.13 932.70C399.47 935.32 399.81 937.95 400.15 940.57C400.50 943.19 400.84 945.81 401.19 948.42C401.54 951.04 401.90 953.66 402.25 956.28C402.61 958.90 402.97 961.51 403.33 964.13C403.69 966.74 404.06 969.36 404.43 971.97C404.80 974.59 405.17 977.20 405.55 979.81C405.93 982.43 406.31 985.04 406.70 987.65C407.08 990.26 407.47 992.87 407.86 995.48C408.26 998.09 408.66 1000.70 409.06 1003.30C409.46 1005.91 409.87 1008.52 410.28 1011.12C410.69 1013.73 411.10 1016.33 411.52 1018.93C411.94 1021.54 412.37 1024.14 412.80 1026.74C413.23 1029.34 413.66 1031.94 414.10 1034.53C414.54 1037.13 414.99 1039.73 415.44 1042.32C415.89 1044.92 416.34 1047.51 416.81 1050.11C417.27 1052.70 417.74 1055.29 418.21 1057.88C418.68 1060.47 419.16 1063.06 419.65 1065.64C420.14 1068.23 420.63 1070.81 421.13 1073.39C421.63 1075.98 422.13 1078.56 422.65 1081.14C423.16 1083.71 423.68 1086.29 424.21 1088.87C424.74 1091.44 425.27 1094.01 425.82 1096.58C426.36 1099.16 426.91 1101.72 427.47 1104.29C428.03 1106.86 428.60 1109.42 429.18 1111.98C429.76 1114.54 430.34 1117.10 430.94 1119.65C431.54 1122.21 432.14 1124.76 432.76 1127.31C433.37 1129.86 434.00 1132.41 434.63 1134.95C435.27 1137.49 435.92 1140.03 436.58 1142.57C437.24 1145.10 437.91 1147.63 438.59 1150.16C439.27 1152.69 439.97 1155.21 440.68 1157.73C441.38 1160.25 442.10 1162.77 442.84 1165.28C443.58 1167.79 444.32 1170.29 445.09 1172.79C445.85 1175.29 446.63 1177.79 447.43 1180.27C448.23 1182.76 449.04 1185.24 449.87 1187.72C450.70 1190.19 451.54 1192.66 452.41 1195.12C453.28 1197.58 454.16 1200.04 455.06 1202.48C455.97 1204.93 456.89 1207.36 457.84 1209.79C458.79 1212.22 459.76 1214.63 460.75 1217.04C461.74 1219.45 462.76 1221.84 463.80 1224.23C464.84 1226.61 465.91 1228.98 467.00 1231.34C468.10 1233.70 469.22 1236.04 470.37 1238.37C471.52 1240.70 472.70 1243.02 473.91 1245.31C475.13 1247.61 476.37 1249.89 477.65 1252.14C478.93 1254.40 480.24 1256.64 481.59 1258.86C482.94 1261.07 484.33 1263.26 485.76 1265.43C487.18 1267.60 488.65 1269.74 490.16 1271.85C491.66 1273.96 493.21 1276.04 494.80 1278.09C496.40 1280.14 498.03 1282.16 499.71 1284.13C501.39 1286.11 503.12 1288.05 504.89 1289.95C506.66 1291.85 508.48 1293.71 510.35 1295.53C512.21 1297.34 514.13 1299.11 516.08 1300.83C518.04 1302.55 520.05 1304.22 522.10 1305.84C524.14 1307.45 526.24 1309.02 528.37 1310.53C530.51 1312.04 532.69 1313.50 534.90 1314.90C537.12 1316.30 539.38 1317.65 541.67 1318.94C543.95 1320.23 546.28 1321.46 548.64 1322.64C550.99 1323.82 553.38 1324.94 555.79 1326.01C558.20 1327.09 560.64 1328.10 563.10 1329.07C565.56 1330.04 568.05 1330.95 570.55 1331.83C573.05 1332.70 575.57 1333.52 578.10 1334.30C580.64 1335.08 583.19 1335.82 585.75 1336.52C588.31 1337.21 590.89 1337.87 593.47 1338.49C596.05 1339.12 598.65 1339.70 601.25 1340.26C603.85 1340.81 606.46 1341.33 609.07 1341.83C611.68 1342.33 614.31 1342.79 616.93 1343.23C619.56 1343.67 622.19 1344.08 624.82 1344.48C627.45 1344.87 630.09 1345.24 632.73 1345.59C635.37 1345.94 638.02 1346.26 640.66 1346.57C643.31 1346.89 645.96 1347.18 648.61 1347.45C651.26 1347.73 653.91 1347.99 656.57 1348.24C659.22 1348.49 661.88 1348.72 664.53 1348.94C667.19 1349.16 669.85 1349.37 672.50 1349.57C675.16 1349.77 677.82 1349.95 680.48 1350.13C683.14 1350.31 685.80 1350.47 688.47 1350.63C691.13 1350.79 693.79 1350.94 696.45 1351.08C699.11 1351.22 701.78 1351.36 704.44 1351.49C707.10 1351.61 709.77 1351.73 712.43 1351.85C715.09 1351.96 717.76 1352.07 720.42 1352.17C723.09 1352.28 725.75 1352.37 728.42 1352.47C731.08 1352.56 733.75 1352.65 736.41 1352.73C739.08 1352.81 741.74 1352.89 744.41 1352.97C747.07 1353.04 749.74 1353.12 752.41 1353.18C755.07 1353.25 757.74 1353.32 760.40 1353.38C763.07 1353.44 765.73 1353.50 768.40 1353.55C771.07 1353.61 773.73 1353.66 776.40 1353.71C779.07 1353.76 781.73 1353.81 784.40 1353.86C787.06 1353.90 789.73 1353.95 792.40 1353.99C795.06 1354.03 797.73 1354.07 800.40 1354.10C803.06 1354.14 805.73 1354.18 808.39 1354.21C811.06 1354.25 813.96 1354.28 816.39 1354.31C818.82 1354.34 821.88 1354.37 822.98 1354.38"/>
<path stroke="#0000ff" d="M290.91 1323.12C291.05 1321.70 291.48 1317.41 291.73 1314.59C291.99 1311.76 292.23 1308.96 292.46 1306.17C292.68 1303.38 292.90 1300.61 293.11 1297.84C293.31 1295.08 293.51 1292.32 293.70 1289.57C293.89 1286.82 294.08 1284.08 294.26 1281.34C294.44 1278.60 294.61 1275.87 294.78 1273.14C294.95 1270.41 295.11 1267.68 295.28 1264.96C295.44 1262.24 295.59 1259.52 295.75 1256.80C295.90 1254.09 296.05 1251.38 296.20 1248.67C296.35 1245.96 296.50 1243.25 296.64 1240.54C296.78 1237.84 296.93 1235.13 297.06 1232.43C297.20 1229.73 297.34 1227.03 297.47 1224.33C297.61 1221.63 297.74 1218.93 297.87 1216.23C298.01 1213.54 298.14 1210.84 298.26 1208.15C298.39 1205.46 298.52 1202.76 298.64 1200.07C298.77 1197.38 298.89 1194.69 299.02 1192.00C299.14 1189.31 299.26 1186.62 299.38 1183.93C299.50 1181.25 299.62 1178.56 299.74 1175.87C299.86 1173.19 299.98 1170.50 300.09 1167.82C300.21 1165.13 300.33 1162.45 300.44 1159.77C300.55 1157.08 300.67 1154.40 300.78 1151.72C300.90 1149.04 301.01 1146.36 301.12 1143.68C301.23 1140.99 301.34 1138.31 301.45 1135.64C301.56 1132.96 301.67 1130.28 301.78 1127.60C301.89 1124.92 302.00 1122.24 302.11 1119.56C302.22 1116.89 302.32 1114.21 302.43 1111.53C302.54 1108.85 302.64 1106.18 302.75 1103.50C302.86 1100.83 302.96 1098.15 303.07 1095.47C303.17 1092.80 303.28 1090.12 303.38 1087.45C303.48 1084.78 303.59 1082.10 303.69 1079.43C303.79 1076.75 303.90 1074.08 304.00 1071.41C304.10 1068.73 304.21 1066.06 304.31 1063.39C304.41 1060.72 304.51 1058.04 304.61 1055.37C304.72 1052.70 304.82 1050.03 304.92 1047.36C305.02 1044.69 305.12 1042.01 305.22 1039.34C305.32 1036.67 305.42 1034.00 305.52 1031.33C305.62 1028.66 305.72 1025.99 305.82 1023.32C305.92 1020.65 306.02 1017.98 306.12 1015.31C306.22 1012.64 306.32 1009.97 306.42 1007.30C306.51 1004.64 306.61 1001.97 306.71 999.30C306.81 996.63 306.91 993.96 307.01 991.29C307.11 988.63 307.20 985.96 307.30 983.29C307.40 980.62 307.50 977.95 307.60 975.29C307.69 972.62 307.79 969.95 307.89 967.29C307.99 964.62 308.09 961.95 308.18 959.29C308.28 956.62 308.38 953.95 308.48 951.29C308.57 948.62 308.67 945.95 308.77 943.29C308.87 940.62 308.96 937.96 309.06 935.29C309.16 932.63 309.25 929.96 309.35 927.30C309.45 924.63 309.55 921.97 309.64 919.30C309.74 916.64 309.84 913.97 309.94 911.31C310.03 908.64 310.13 905.98 310.23 903.31C310.32 900.65 310.42 897.99 310.52 895.32C310.62 892.66 310.71 890.00 310.81 887.33C310.91 884.67 311.01 882.01 311.10 879.34C311.20 876.68 311.30 874.02 311.40 871.35C311.49 868.69 311.59 866.03 311.69 863.36C311.79 860.70 311.89 858.04 311.98 855.38C312.08 852.71 312.18 850.05 312.28 847.39C312.38 844.73 312.48 842.07 312.57 839.41C312.67 836.74 312.77 834.08 312.87 831.42C312.97 828.76 313.07 826.10 313.17 823.44C313.26 820.78 313.36 818.11 313.46 815.45C313.56 812.79 313.66 810.13 313.76 807.47C313.86 804.81 313.96 802.15 314.06 799.49C314.16 796.83 314.26 794.17 314.36 791.51C314.46 788.85 314.56 786.19 314.66 783.53C314.76 780.87 314.86 778.21 314.96 775.55C315.06 772.89 315.17 770.23 315.27 767.57C315.37 764.91 315.47 762.26 315.57 759.60C315.67 756.94 315.78 754.28 315.88 751.62C315.98 748.96 316.08 746.30 316.19 743.65C316.29 740.99 316.39 738.33 316.49 735.67C316.60 733.01 316.70 730.36 316.80 727.70C316.91 725.04 317.01 722.38 317.12 719.72C317.22 717.07 317.33 714.41 317.43 711.75C317.54 709.10 317.64 706.44 317.75 703.78C317.85 701.13 317.96 698.47 318.06 695.81C318.17 693.16 318.28 690.50 318.38 687.84C318.49 685.19 318.60 682.53 318.70 679.88C318.81 677.22 318.92 674.56 319.03 671.91C319.13 669.25 319.24 666.60 319.35 663.94C319.46 661.29 319.57 658.63 319.68 655.98C319.79 653.32 319.90 650.67 320.01 648.01C320.12 645.36 320.23 642.70 320.34 640.05C320.45 637.40 320.56 634.74 320.68 632.09C320.79 629.43 320.90 626.78 321.01 624.13C321.13 621.47 321.24 618.82 321.35 616.17C321.47 613.51 321.58 610.86 321.70 608.21C321.81 605.55 321.93 602.90 322.04 600.25C322.16 597.60 322.28 594.95 322.39 592.29C322.51 589.64 322.63 586.99 322.75 584.34C322.86 581.69 322.98 579.03 323.10 576.38C323.22 573.73 323.34 571.08 323.46 568.43C323.58 565.78 323.70 563.13 323.82 560.48C323.94 557.83 324.07 555.18 324.19 552.53C324.31 549.88 324.43 547.23 324.56 544.58C324.68 541.93 324.81 539.28 324.93 536.63C325.06 533.98 325.18 531.33 325.31 528.69C325.44 526.04 325.57 523.39 325.69 520.74C325.82 518.09 325.95 515.45 326.08 512.80C326.21 510.15 326.34 507.50 326.47 504.86C326.60 502.21 326.74 499.56 326.87 496.92C327.00 494.27 327.14 491.63 327.27 488.98C327.41 486.33 327.54 483.69 327.68 481.04C327.81 478.40 327.95 475.75 328.09 473.11C328.23 470.47 328.37 467.82 328.51 465.18C328.65 462.53 328.79 459.89 328.93 457.25C329.07 454.60 329.22 451.96 329.36 449.32C329.51 446.68 329.65 444.04 329.80 441.39C329.95 438.75 330.10 436.11 330.24 433.47C330.39 430.83 330.54 428.19 330.70 425.55C330.85 422.91 331.00 420.27 331.16 417.63C331.31 414.99 331.47 412.36 331.62 409.72C331.78 407.08 331.94 404.44 332.10 401.81C332.26 399.17 332.42 396.53 332.58 393.90C332.75 391.26 332.91 388.63 333.08 385.99C333.24 383.36 333.41 380.72 333.58 378.09C333.75 375.46 333.92 372.82 334.10 370.19C334.27 367.56 334.44 364.93 334.62 362.30C334.80 359.67 334.98 357.04 335.16 354.41C335.34 351.78 335.52 349.15 335.71 346.52C335.90 343.90 336.08 341.27 336.27 338.64C336.46 336.02 336.66 333.39 336.85 330.77C337.05 328.14 337.25 325.52 337.45 322.90C337.65 320.28 337.85 317.66 338.06 315.04C338.26 312.42 338.47 309.80 338.69 307.18C338.90 304.57 339.12 301.95 339.33 299.34C339.55 296.72 339.78 294.11 340.00 291.50C340.23 288.89 340.46 286.28 340.70 283.67C340.93 281.07 341.17 278.46 341.42 275.86C341.66 273.25 341.91 270.65 342.16 268.05C342.42 265.45 342.67 262.86 342.94 260.26C343.20 257.67 343.47 255.08 343.75 252.49C344.03 249.90 344.31 247.32 344.60 244.73C344.89 242.15 345.19 239.57 345.50 237.00C345.81 234.43 346.12 231.86 346.45 229.30C346.77 226.73 347.11 224.17 347.45 221.62C347.80 219.07 348.16 216.52 348.53 213.99C348.90 211.45 349.28 208.92 349.69 206.40C350.09 203.89 350.51 201.38 350.95 198.89C351.39 196.39 351.85 193.91 352.34 191.46C352.84 189.00 353.35 186.56 353.91 184.15C354.47 181.75 355.05 179.36 355.71 177.05C356.37 174.74 357.05 172.42 357.87 170.29C358.70 168.15 359.50 165.91 360.65 164.22C361.79 162.54 362.79 159.90 364.74 160.18C366.69 160.45 370.41 163.46 372.34 165.86C374.28 168.27 375.20 171.75 376.34 174.58C377.49 177.41 378.33 180.12 379.21 182.85C380.09 185.58 380.87 188.28 381.63 190.98C382.39 193.68 383.10 196.37 383.79 199.05C384.48 201.74 385.14 204.41 385.78 207.08C386.42 209.76 387.04 212.43 387.64 215.09C388.24 217.76 388.83 220.42 389.40 223.08C389.98 225.74 390.54 228.40 391.09 231.06C391.65 233.72 392.19 236.37 392.72 239.03C393.25 241.68 393.78 244.34 394.30 246.99C394.81 249.64 395.32 252.29 395.83 254.94C396.33 257.59 396.83 260.24 397.32 262.89C397.82 265.54 398.30 268.19 398.79 270.83C399.27 273.48 399.75 276.13 400.22 278.77C400.70 281.42 401.17 284.06 401.64 286.71C402.10 289.35 402.57 292.00 403.03 294.64C403.49 297.28 403.95 299.93 404.40 302.57C404.86 305.21 405.31 307.85 405.76 310.50C406.21 313.14 406.66 315.78 407.10 318.42C407.55 321.06 407.99 323.70 408.44 326.34C408.88 328.98 409.32 331.62 409.76 334.26C410.20 336.90 410.63 339.54 411.07 342.18C411.51 344.82 411.94 347.46 412.37 350.09C412.81 352.73 413.24 355.37 413.67 358.01C414.10 360.64 414.53 363.28 414.96 365.92C415.39 368.56 415.82 371.19 416.25 373.83C416.67 376.46 417.10 379.10 417.53 381.74C417.95 384.37 418.38 387.01 418.81 389.64C419.23 392.28 419.66 394.91 420.08 397.55C420.51 400.18 420.93 402.82 421.35 405.45C421.78 408.08 422.20 410.72 422.63 413.35C423.05 415.98 423.47 418.62 423.90 421.25C424.32 423.88 424.74 426.52 425.17 429.15C425.59 431.78 426.02 434.41 426.44 437.04C426.86 439.68 427.29 442.31 427.71 444.94C428.14 447.57 428.56 450.20 428.98 452.83C429.41 455.46 429.83 458.09 430.26 460.72C430.69 463.35 431.11 465.98 431.54 468.61C431.96 471.24 432.39 473.87 432.82 476.50C433.24 479.13 433.67 481.75 434.10 484.38C434.53 487.01 434.96 489.64 435.39 492.27C435.82 494.89 436.25 497.52 436.68 500.15C437.11 502.77 437.54 505.40 437.97 508.03C438.41 510.65 438.84 513.28 439.27 515.91C439.71 518.53 440.14 521.16 440.58 523.78C441.02 526.41 441.45 529.03 441.89 531.66C442.33 534.28 442.77 536.90 443.21 539.53C443.65 542.15 444.09 544.77 444.53 547.40C444.97 550.02 445.42 552.64 445.86 555.26C446.30 557.89 446.75 560.51 447.20 563.13C447.64 565.75 448.09 568.37 448.54 570.99C448.99 573.61 449.44 576.23 449.89 578.85C450.34 581.47 450.80 584.09 451.25 586.71C451.71 589.33 452.16 591.95 452.62 594.57C453.08 597.19 453.54 599.80 454.00 602.42C454.46 605.04 454.92 607.66 455.38 610.27C455.85 612.89 456.31 615.51 456.78 618.12C457.25 620.74 457.72 623.35 458.19 625.97C458.66 628.58 459.13 631.20 459.60 633.81C460.08 636.42 460.55 639.04 461.03 641.65C461.51 644.26 461.99 646.87 462.47 649.49C462.95 652.10 463.44 654.71 463.92 657.32C464.41 659.93 464.89 662.54 465.38 665.15C465.87 667.76 466.36 670.37 466.86 672.98C467.35 675.59 467.85 678.20 468.35 680.80C468.84 683.41 469.34 686.02 469.85 688.63C470.35 691.23 470.85 693.84 471.36 696.44C471.87 699.05 472.38 701.65 472.89 704.26C473.40 706.86 473.92 709.46 474.43 712.07C474.95 714.67 475.47 717.27 475.99 719.87C476.51 722.47 477.04 725.08 477.57 727.68C478.09 730.28 478.62 732.87 479.16 735.47C479.69 738.07 480.22 740.67 480.76 743.27C481.30 745.86 481.84 748.46 482.39 751.06C482.93 753.65 483.48 756.25 484.03 758.84C484.58 761.44 485.13 764.03 485.69 766.62C486.25 769.21 486.81 771.81 487.37 774.40C487.93 776.99 488.50 779.58 489.07 782.17C489.64 784.75 490.21 787.34 490.79 789.93C491.36 792.52 491.94 795.10 492.53 797.69C493.11 800.27 493.70 802.86 494.29 805.44C494.88 808.03 495.47 810.61 496.07 813.19C496.67 815.77 497.27 818.35 497.87 820.93C498.48 823.51 499.09 826.09 499.70 828.66C500.32 831.24 500.93 833.82 501.56 836.39C502.18 838.97 502.80 841.54 503.44 844.11C504.07 846.68 504.70 849.26 505.34 851.83C505.98 854.39 506.62 856.96 507.27 859.53C507.92 862.10 508.57 864.66 509.23 867.23C509.89 869.79 510.55 872.36 511.22 874.92C511.88 877.48 512.55 880.04 513.23 882.60C513.91 885.16 514.59 887.71 515.28 890.27C515.97 892.82 516.66 895.38 517.36 897.93C518.05 900.48 518.76 903.03 519.47 905.58C520.18 908.13 520.89 910.68 521.61 913.22C522.33 915.77 523.06 918.31 523.79 920.85C524.52 923.39 525.26 925.93 526.00 928.47C526.75 931.01 527.50 933.54 528.26 936.08C529.01 938.61 529.78 941.14 530.55 943.67C531.32 946.20 532.09 948.73 532.87 951.25C533.66 953.78 534.45 956.30 535.25 958.82C536.04 961.34 536.85 963.86 537.66 966.37C538.47 968.89 539.29 971.40 540.12 973.91C540.94 976.42 541.78 978.92 542.62 981.43C543.46 983.93 544.31 986.43 545.17 988.93C546.03 991.43 546.89 993.92 547.77 996.41C548.64 998.91 549.53 1001.40 550.42 1003.88C551.31 1006.37 552.21 1008.85 553.12 1011.33C554.03 1013.80 554.95 1016.28 555.88 1018.75C556.81 1021.22 557.75 1023.69 558.69 1026.15C559.64 1028.61 560.60 1031.07 561.57 1033.53C562.53 1035.98 563.51 1038.43 564.50 1040.88C565.49 1043.33 566.49 1045.77 567.50 1048.20C568.51 1050.64 569.53 1053.07 570.56 1055.50C571.59 1057.93 572.63 1060.35 573.69 1062.77C574.74 1065.18 575.81 1067.59 576.89 1070.00C577.97 1072.41 579.06 1074.81 580.16 1077.20C581.27 1079.59 582.38 1081.98 583.51 1084.36C584.64 1086.74 585.78 1089.12 586.94 1091.49C588.10 1093.86 589.26 1096.22 590.45 1098.57C591.63 1100.93 592.83 1103.27 594.04 1105.61C595.25 1107.95 596.48 1110.28 597.72 1112.61C598.97 1114.93 600.22 1117.24 601.50 1119.55C602.77 1121.86 604.06 1124.15 605.36 1126.44C606.67 1128.73 607.99 1131.01 609.32 1133.28C610.66 1135.55 612.01 1137.81 613.38 1140.05C614.76 1142.30 616.14 1144.54 617.55 1146.77C618.96 1148.99 620.38 1151.21 621.82 1153.41C623.26 1155.61 624.72 1157.81 626.20 1159.98C627.68 1162.16 629.18 1164.33 630.69 1166.48C632.21 1168.63 633.75 1170.77 635.30 1172.90C636.86 1175.02 638.43 1177.13 640.03 1179.23C641.62 1181.32 643.24 1183.40 644.87 1185.47C646.51 1187.53 648.17 1189.58 649.84 1191.61C651.52 1193.64 653.22 1195.66 654.94 1197.65C656.65 1199.65 658.39 1201.63 660.15 1203.59C661.92 1205.55 663.70 1207.49 665.50 1209.41C667.30 1211.33 669.13 1213.23 670.98 1215.12C672.82 1217.00 674.69 1218.86 676.58 1220.70C678.47 1222.54 680.38 1224.36 682.31 1226.15C684.24 1227.95 686.19 1229.72 688.17 1231.47C690.14 1233.23 692.14 1234.95 694.15 1236.66C696.17 1238.36 698.20 1240.04 700.26 1241.70C702.32 1243.36 704.39 1244.99 706.49 1246.60C708.59 1248.20 710.70 1249.79 712.84 1251.34C714.98 1252.90 717.13 1254.43 719.30 1255.94C721.48 1257.45 723.67 1258.93 725.88 1260.38C728.09 1261.84 730.32 1263.27 732.56 1264.67C734.81 1266.07 737.07 1267.45 739.35 1268.80C741.62 1270.15 743.92 1271.47 746.23 1272.77C748.54 1274.07 750.86 1275.35 753.20 1276.59C755.54 1277.84 757.89 1279.06 760.26 1280.26C762.62 1281.45 765.01 1282.62 767.40 1283.77C769.79 1284.92 772.20 1286.04 774.61 1287.13C777.03 1288.23 779.46 1289.30 781.90 1290.35C784.34 1291.40 786.79 1292.42 789.25 1293.42C791.71 1294.42 794.18 1295.40 796.66 1296.35C799.14 1297.31 801.63 1298.24 804.13 1299.15C806.62 1300.06 809.13 1300.95 811.64 1301.82C814.16 1302.68 816.68 1303.53 819.21 1304.35C821.73 1305.18 824.27 1305.99 826.81 1306.77C829.35 1307.56 831.90 1308.32 834.45 1309.07C837.01 1309.82 839.57 1310.55 842.13 1311.26C844.70 1311.97 847.27 1312.66 849.84 1313.34C852.42 1314.01 855.00 1314.67 857.58 1315.31C860.16 1315.95 862.75 1316.58 865.34 1317.19C867.93 1317.80 870.53 1318.39 873.13 1318.97C875.73 1319.55 878.33 1320.12 880.94 1320.67C883.54 1321.22 886.15 1321.75 888.77 1322.28C891.38 1322.80 893.99 1323.31 896.61 1323.81C899.23 1324.30 901.85 1324.79 904.47 1325.26C907.09 1325.73 909.72 1326.19 912.34 1326.64C914.97 1327.09 917.60 1327.52 920.23 1327.95C922.86 1328.38 925.49 1328.79 928.13 1329.20C930.76 1329.60 933.40 1329.99 936.03 1330.38C938.67 1330.76 941.31 1331.14 943.95 1331.50C946.59 1331.87 949.23 1332.22 951.87 1332.57C954.52 1332.92 957.16 1333.26 959.81 1333.59C962.45 1333.92 965.10 1334.24 967.74 1334.55C970.39 1334.87 973.04 1335.17 975.69 1335.47C978.34 1335.77 980.99 1336.06 983.64 1336.34C986.29 1336.63 988.94 1336.91 991.59 1337.18C994.25 1337.45 996.90 1337.71 999.55 1337.97C1002.21 1338.22 1004.86 1338.47 1007.52 1338.72C1010.17 1338.96 1012.83 1339.20 1015.48 1339.43C1018.14 1339.67 1020.79 1339.89 1023.45 1340.12C1026.11 1340.34 1028.77 1340.55 1031.42 1340.76C1034.08 1340.98 1036.74 1341.18 1039.40 1341.38C1042.06 1341.58 1044.72 1341.78 1047.38 1341.97C1050.03 1342.16 1052.69 1342.35 1055.35 1342.53C1058.01 1342.72 1060.67 1342.89 1063.34 1343.07C1066.00 1343.24 1068.66 1343.41 1071.32 1343.58C1073.98 1343.75 1076.64 1343.91 1079.30 1344.07C1081.96 1344.22 1084.63 1344.38 1087.29 1344.53C1089.95 1344.68 1092.61 1344.83 1095.28 1344.97C1097.94 1345.12 1100.60 1345.26 1103.26 1345.40C1105.93 1345.53 1108.59 1345.67 1111.25 1345.80C1113.92 1345.93 1116.58 1346.06 1119.24 1346.18C1121.91 1346.31 1124.57 1346.43 1127.24 1346.55C1129.90 1346.67 1132.56 1346.79 1135.23 1346.90C1137.89 1347.02 1140.56 1347.13 1143.22 1347.24C1145.88 1347.35 1148.55 1347.46 1151.21 1347.56C1153.88 1347.66 1156.54 1347.77 1159.21 1347.87C1161.87 1347.97 1164.54 1348.06 1167.20 1348.16C1169.87 1348.26 1172.53 1348.35 1175.20 1348.44C1177.86 1348.53 1180.53 1348.62 1183.19 1348.71C1185.86 1348.80 1188.52 1348.88 1191.19 1348.96C1193.85 1349.05 1196.52 1349.13 1199.18 1349.21C1201.85 1349.29 1204.51 1349.37 1207.18 1349.45C1209.84 1349.52 1212.51 1349.60 1215.18 1349.67C1217.84 1349.74 1220.51 1349.82 1223.17 1349.89C1225.84 1349.96 1228.50 1350.03 1231.17 1350.09C1233.84 1350.16 1236.50 1350.23 1239.17 1350.29C1241.83 1350.35 1244.50 1350.42 1247.17 1350.48C1249.83 1350.54 1252.50 1350.60 1255.16 1350.66C1257.83 1350.72 1260.50 1350.78 1263.16 1350.84C1265.83 1350.89 1268.49 1350.95 1271.16 1351.00C1273.83 1351.06 1276.49 1351.11 1279.16 1351.16C1281.82 1351.21 1284.49 1351.27 1287.16 1351.32C1289.82 1351.37 1292.49 1351.41 1295.15 1351.46C1297.82 1351.51 1300.49 1351.56 1303.15 1351.60C1305.82 1351.65 1308.49 1351.70 1311.15 1351.74C1313.82 1351.78 1316.48 1351.83 1319.15 1351.87C1321.82 1351.91 1325.30 1351.97 1327.15 1352.00C1329.01 1352.02 1329.76 1352.03 1330.28 1352.04"/>
<path stroke="#ff00ff" d="M282.10 1270.53C282.12 1269.17 282.18 1265.08 282.22 1262.36C282.26 1259.64 282.30 1256.93 282.34 1254.21C282.37 1251.50 282.41 1248.79 282.45 1246.08C282.49 1243.38 282.52 1240.67 282.56 1237.97C282.59 1235.26 282.63 1232.56 282.66 1229.86C282.70 1227.16 282.73 1224.46 282.77 1221.76C282.80 1219.07 282.83 1216.37 282.87 1213.68C282.90 1210.98 282.93 1208.29 282.96 1205.60C283.00 1202.90 283.03 1200.21 283.06 1197.52C283.09 1194.83 283.12 1192.15 283.16 1189.46C283.19 1186.77 283.22 1184.08 283.25 1181.40C283.28 1178.71 283.31 1176.02 283.34 1173.34C283.37 1170.65 283.40 1167.97 283.43 1165.29C283.46 1162.60 283.49 1159.92 283.52 1157.24C283.55 1154.56 283.58 1151.88 283.61 1149.19C283.64 1146.51 283.67 1143.83 283.70 1141.15C283.72 1138.47 283.75 1135.79 283.78 1133.12C283.81 1130.44 283.84 1127.76 283.87 1125.08C283.89 1122.40 283.92 1119.73 283.95 1117.05C283.98 1114.37 284.01 1111.70 284.04 1109.02C284.06 1106.34 284.09 1103.67 284.12 1100.99C284.15 1098.32 284.17 1095.64 284.20 1092.97C284.23 1090.29 284.26 1087.62 284.28 1084.95C284.31 1082.27 284.34 1079.60 284.37 1076.92C284.39 1074.25 284.42 1071.58 284.45 1068.91C284.47 1066.23 284.50 1063.56 284.53 1060.89C284.55 1058.22 284.58 1055.55 284.61 1052.87C284.63 1050.20 284.66 1047.53 284.69 1044.86C284.72 1042.19 284.74 1039.52 284.77 1036.85C284.80 1034.18 284.82 1031.51 284.85 1028.84C284.87 1026.17 284.90 1023.50 284.93 1020.83C284.95 1018.16 284.98 1015.49 285.01 1012.82C285.03 1010.15 285.06 1007.48 285.09 1004.81C285.11 1002.15 285.14 999.48 285.17 996.81C285.19 994.14 285.22 991.47 285.24 988.81C285.27 986.14 285.30 983.47 285.32 980.80C285.35 978.14 285.38 975.47 285.40 972.80C285.43 970.13 285.45 967.47 285.48 964.80C285.51 962.13 285.53 959.47 285.56 956.80C285.59 954.13 285.61 951.47 285.64 948.80C285.66 946.14 285.69 943.47 285.72 940.81C285.74 938.14 285.77 935.47 285.80 932.81C285.82 930.14 285.85 927.48 285.87 924.81C285.90 922.15 285.93 919.48 285.95 916.82C285.98 914.15 286.01 911.49 286.03 908.83C286.06 906.16 286.09 903.50 286.11 900.83C286.14 898.17 286.17 895.50 286.19 892.84C286.22 890.18 286.24 887.51 286.27 884.85C286.30 882.19 286.32 879.52 286.35 876.86C286.38 874.20 286.40 871.53 286.43 868.87C286.46 866.21 286.48 863.55 286.51 860.88C286.54 858.22 286.56 855.56 286.59 852.90C286.62 850.23 286.64 847.57 286.67 844.91C286.70 842.25 286.73 839.58 286.75 836.92C286.78 834.26 286.81 831.60 286.83 828.94C286.86 826.28 286.89 823.62 286.92 820.95C286.94 818.29 286.97 815.63 287.00 812.97C287.02 810.31 287.05 807.65 287.08 804.99C287.11 802.33 287.13 799.67 287.16 797.01C287.19 794.35 287.22 791.69 287.24 789.02C287.27 786.36 287.30 783.70 287.33 781.04C287.36 778.38 287.38 775.72 287.41 773.07C287.44 770.41 287.47 767.75 287.50 765.09C287.52 762.43 287.55 759.77 287.58 757.11C287.61 754.45 287.64 751.79 287.67 749.13C287.69 746.47 287.72 743.81 287.75 741.16C287.78 738.50 287.81 735.84 287.84 733.18C287.87 730.52 287.89 727.86 287.92 725.21C287.95 722.55 287.98 719.89 288.01 717.23C288.04 714.57 288.07 711.92 288.10 709.26C288.13 706.60 288.16 703.94 288.19 701.29C288.22 698.63 288.25 695.97 288.28 693.31C288.31 690.66 288.34 688.00 288.36 685.34C288.39 682.69 288.43 680.03 288.46 677.37C288.49 674.72 288.52 672.06 288.55 669.41C288.58 666.75 288.61 664.09 288.64 661.44C288.67 658.78 288.70 656.13 288.73 653.47C288.76 650.81 288.79 648.16 288.82 645.50C288.85 642.85 288.89 640.19 288.92 637.54C288.95 634.88 288.98 632.23 289.01 629.57C289.04 626.92 289.08 624.27 289.11 621.61C289.14 618.96 289.17 616.30 289.20 613.65C289.24 610.99 289.27 608.34 289.30 605.69C289.33 603.03 289.37 600.38 289.40 597.73C289.43 595.07 289.47 592.42 289.50 589.77C289.53 587.11 289.57 584.46 289.60 581.81C289.63 579.16 289.67 576.50 289.70 573.85C289.73 571.20 289.77 568.55 289.80 565.90C289.84 563.24 289.87 560.59 289.91 557.94C289.94 555.29 289.98 552.64 290.01 549.99C290.05 547.34 290.08 544.69 290.12 542.04C290.15 539.39 290.19 536.73 290.22 534.08C290.26 531.43 290.30 528.78 290.33 526.13C290.37 523.49 290.41 520.84 290.44 518.19C290.48 515.54 290.52 512.89 290.55 510.24C290.59 507.59 290.63 504.94 290.67 502.29C290.71 499.65 290.74 497.00 290.78 494.35C290.82 491.70 290.86 489.05 290.90 486.41C290.94 483.76 290.98 481.11 291.02 478.47C291.06 475.82 291.10 473.17 291.14 470.53C291.18 467.88 291.22 465.24 291.26 462.59C291.30 459.94 291.34 457.30 291.38 454.65C291.42 452.01 291.46 449.36 291.51 446.72C291.55 444.08 291.59 441.43 291.63 438.79C291.68 436.15 291.72 433.50 291.76 430.86C291.81 428.22 291.85 425.57 291.89 422.93C291.94 420.29 291.98 417.65 292.03 415.01C292.07 412.37 292.12 409.73 292.17 407.09C292.21 404.44 292.26 401.80 292.30 399.17C292.35 396.53 292.40 393.89 292.45 391.25C292.50 388.61 292.54 385.97 292.59 383.33C292.64 380.70 292.69 378.06 292.74 375.42C292.79 372.79 292.84 370.15 292.89 367.52C292.94 364.88 293.00 362.25 293.05 359.61C293.10 356.98 293.15 354.35 293.21 351.71C293.26 349.08 293.32 346.45 293.37 343.82C293.43 341.19 293.48 338.56 293.54 335.93C293.60 333.30 293.65 330.67 293.71 328.04C293.77 325.41 293.83 322.78 293.89 320.16C293.95 317.53 294.01 314.91 294.07 312.28C294.13 309.66 294.20 307.04 294.26 304.41C294.32 301.79 294.39 299.17 294.45 296.55C294.52 293.93 294.59 291.31 294.66 288.70C294.72 286.08 294.79 283.47 294.87 280.85C294.94 278.24 295.01 275.63 295.08 273.02C295.16 270.41 295.23 267.80 295.31 265.19C295.39 262.58 295.47 259.98 295.55 257.38C295.63 254.78 295.71 252.18 295.79 249.58C295.88 246.98 295.97 244.39 296.06 241.80C296.14 239.21 296.24 236.62 296.33 234.04C296.43 231.45 296.52 228.87 296.62 226.30C296.73 223.72 296.83 221.15 296.94 218.59C297.05 216.03 297.16 213.47 297.27 210.92C297.39 208.37 297.51 205.82 297.64 203.29C297.77 200.76 297.90 198.23 298.04 195.72C298.19 193.22 298.33 190.72 298.49 188.25C298.65 185.77 298.82 183.31 299.01 180.90C299.20 178.48 299.39 176.07 299.62 173.76C299.85 171.45 300.08 169.09 300.39 167.04C300.70 164.98 300.90 162.03 301.50 161.42C302.10 160.81 303.26 161.12 303.98 163.39C304.69 165.66 305.33 171.63 305.79 175.03C306.26 178.44 306.46 180.95 306.75 183.83C307.04 186.70 307.29 189.50 307.53 192.30C307.78 195.10 308.01 197.87 308.23 200.63C308.46 203.39 308.67 206.14 308.88 208.88C309.09 211.62 309.28 214.35 309.48 217.07C309.68 219.80 309.87 222.52 310.05 225.23C310.24 227.95 310.42 230.66 310.60 233.36C310.78 236.07 310.96 238.77 311.13 241.47C311.30 244.17 311.47 246.87 311.64 249.56C311.81 252.26 311.98 254.95 312.14 257.64C312.31 260.33 312.47 263.02 312.63 265.70C312.79 268.39 312.95 271.08 313.11 273.76C313.27 276.44 313.42 279.13 313.58 281.81C313.74 284.49 313.89 287.17 314.04 289.85C314.20 292.53 314.35 295.20 314.50 297.88C314.65 300.56 314.80 303.23 314.95 305.91C315.10 308.59 315.25 311.26 315.40 313.93C315.55 316.61 315.70 319.28 315.85 321.95C315.99 324.62 316.14 327.30 316.29 329.97C316.43 332.64 316.58 335.31 316.72 337.98C316.87 340.65 317.02 343.32 317.16 345.98C317.31 348.65 317.45 351.32 317.59 353.99C317.74 356.66 317.88 359.32 318.03 361.99C318.17 364.66 318.31 367.32 318.46 369.99C318.60 372.65 318.74 375.32 318.89 377.98C319.03 380.65 319.17 383.31 319.31 385.98C319.46 388.64 319.60 391.31 319.74 393.97C319.88 396.63 320.03 399.30 320.17 401.96C320.31 404.62 320.46 407.28 320.60 409.95C320.74 412.61 320.88 415.27 321.03 417.93C321.17 420.59 321.31 423.26 321.45 425.92C321.60 428.58 321.74 431.24 321.88 433.90C322.03 436.56 322.17 439.22 322.31 441.88C322.46 444.54 322.60 447.20 322.74 449.86C322.89 452.52 323.03 455.18 323.17 457.83C323.32 460.49 323.46 463.15 323.61 465.81C323.75 468.47 323.90 471.13 324.04 473.78C324.19 476.44 324.33 479.10 324.48 481.76C324.62 484.41 324.77 487.07 324.91 489.73C325.06 492.39 325.21 495.04 325.35 497.70C325.50 500.35 325.65 503.01 325.80 505.67C325.94 508.32 326.09 510.98 326.24 513.63C326.39 516.29 326.54 518.95 326.68 521.60C326.83 524.26 326.98 526.91 327.13 529.57C327.28 532.22 327.43 534.88 327.58 537.53C327.73 540.18 327.88 542.84 328.04 545.49C328.19 548.15 328.34 550.80 328.49 553.45C328.64 556.11 328.80 558.76 328.95 561.41C329.11 564.07 329.26 566.72 329.41 569.37C329.57 572.02 329.72 574.68 329.88 577.33C330.04 579.98 330.19 582.63 330.35 585.29C330.51 587.94 330.66 590.59 330.82 593.24C330.98 595.89 331.14 598.54 331.30 601.20C331.46 603.85 331.62 606.50 331.78 609.15C331.94 611.80 332.10 614.45 332.26 617.10C332.42 619.75 332.59 622.40 332.75 625.05C332.91 627.70 333.08 630.35 333.24 633.00C333.41 635.65 333.57 638.30 333.74 640.95C333.90 643.60 334.07 646.25 334.24 648.89C334.41 651.54 334.58 654.19 334.75 656.84C334.91 659.49 335.09 662.14 335.26 664.78C335.43 667.43 335.60 670.08 335.77 672.73C335.95 675.37 336.12 678.02 336.29 680.67C336.47 683.32 336.64 685.96 336.82 688.61C337.00 691.26 337.17 693.90 337.35 696.55C337.53 699.19 337.71 701.84 337.89 704.49C338.07 707.13 338.25 709.78 338.44 712.42C338.62 715.07 338.80 717.71 338.99 720.36C339.17 723.00 339.36 725.65 339.54 728.29C339.73 730.93 339.92 733.58 340.11 736.22C340.30 738.87 340.49 741.51 340.68 744.15C340.87 746.80 341.06 749.44 341.25 752.08C341.45 754.72 341.64 757.37 341.84 760.01C342.03 762.65 342.23 765.29 342.43 767.94C342.63 770.58 342.83 773.22 343.03 775.86C343.23 778.50 343.44 781.14 343.64 783.78C343.84 786.42 344.05 789.06 344.26 791.70C344.46 794.34 344.67 796.98 344.88 799.62C345.09 802.26 345.30 804.90 345.52 807.54C345.73 810.18 345.94 812.82 346.16 815.45C346.37 818.09 346.59 820.73 346.81 823.37C347.03 826.01 347.25 828.64 347.47 831.28C347.70 833.92 347.92 836.55 348.15 839.19C348.37 841.82 348.60 844.46 348.83 847.10C349.06 849.73 349.29 852.37 349.53 855.00C349.76 857.63 350.00 860.27 350.23 862.90C350.47 865.54 350.71 868.17 350.95 870.80C351.19 873.44 351.44 876.07 351.68 878.70C351.93 881.33 352.17 883.96 352.42 886.60C352.67 889.23 352.93 891.86 353.18 894.49C353.44 897.12 353.69 899.75 353.95 902.38C354.21 905.01 354.47 907.64 354.74 910.26C355.00 912.89 355.27 915.52 355.53 918.15C355.80 920.78 356.07 923.40 356.35 926.03C356.62 928.65 356.90 931.28 357.18 933.91C357.46 936.53 357.74 939.16 358.03 941.78C358.31 944.40 358.60 947.03 358.89 949.65C359.18 952.27 359.48 954.89 359.77 957.52C360.07 960.14 360.37 962.76 360.68 965.38C360.98 968.00 361.29 970.62 361.60 973.24C361.91 975.85 362.22 978.47 362.54 981.09C362.86 983.71 363.18 986.32 363.51 988.94C363.83 991.55 364.16 994.17 364.49 996.78C364.83 999.40 365.16 1002.01 365.50 1004.62C365.84 1007.23 366.19 1009.85 366.54 1012.46C366.89 1015.07 367.24 1017.67 367.60 1020.28C367.96 1022.89 368.32 1025.50 368.69 1028.10C369.06 1030.71 369.43 1033.32 369.81 1035.92C370.18 1038.52 370.57 1041.13 370.95 1043.73C371.34 1046.33 371.73 1048.93 372.13 1051.53C372.53 1054.13 372.94 1056.72 373.35 1059.32C373.76 1061.92 374.17 1064.51 374.59 1067.10C375.02 1069.70 375.45 1072.29 375.88 1074.88C376.32 1077.47 376.76 1080.06 377.21 1082.64C377.65 1085.23 378.11 1087.81 378.57 1090.40C379.04 1092.98 379.51 1095.56 379.98 1098.14C380.46 1100.72 380.95 1103.29 381.44 1105.87C381.94 1108.44 382.44 1111.02 382.95 1113.59C383.46 1116.15 383.98 1118.72 384.51 1121.29C385.04 1123.85 385.58 1126.41 386.13 1128.97C386.68 1131.53 387.24 1134.09 387.81 1136.64C388.38 1139.19 388.96 1141.74 389.56 1144.29C390.15 1146.84 390.75 1149.38 391.37 1151.92C391.99 1154.46 392.62 1156.99 393.26 1159.52C393.90 1162.06 394.56 1164.58 395.23 1167.10C395.90 1169.63 396.58 1172.14 397.28 1174.66C397.98 1177.17 398.70 1179.67 399.43 1182.18C400.16 1184.68 400.91 1187.17 401.68 1189.66C402.44 1192.15 403.23 1194.63 404.03 1197.10C404.84 1199.58 405.66 1202.05 406.50 1204.50C407.35 1206.96 408.21 1209.41 409.10 1211.85C409.99 1214.30 410.90 1216.73 411.84 1219.15C412.78 1221.57 413.74 1223.98 414.73 1226.38C415.72 1228.77 416.73 1231.16 417.78 1233.53C418.82 1235.90 419.90 1238.26 421.00 1240.60C422.11 1242.94 423.25 1245.27 424.42 1247.58C425.59 1249.88 426.80 1252.17 428.05 1254.44C429.29 1256.71 430.57 1258.96 431.90 1261.18C433.22 1263.40 434.58 1265.60 435.99 1267.77C437.39 1269.94 438.84 1272.08 440.34 1274.19C441.83 1276.30 443.37 1278.38 444.96 1280.43C446.55 1282.47 448.18 1284.48 449.87 1286.44C451.56 1288.41 453.29 1290.33 455.08 1292.21C456.86 1294.09 458.70 1295.93 460.58 1297.72C462.47 1299.50 464.41 1301.24 466.39 1302.92C468.38 1304.60 470.42 1306.24 472.50 1307.81C474.58 1309.38 476.71 1310.90 478.88 1312.36C481.05 1313.82 483.27 1315.22 485.52 1316.56C487.77 1317.91 490.07 1319.19 492.39 1320.42C494.72 1321.65 497.08 1322.81 499.47 1323.93C501.85 1325.04 504.28 1326.10 506.72 1327.11C509.16 1328.11 511.63 1329.06 514.12 1329.97C516.60 1330.88 519.11 1331.73 521.63 1332.54C524.16 1333.35 526.70 1334.11 529.25 1334.84C531.80 1335.56 534.37 1336.25 536.95 1336.89C539.52 1337.54 542.11 1338.15 544.71 1338.73C547.30 1339.30 549.91 1339.85 552.52 1340.36C555.13 1340.88 557.74 1341.36 560.37 1341.82C562.99 1342.28 565.62 1342.71 568.25 1343.12C570.88 1343.53 573.51 1343.91 576.15 1344.28C578.79 1344.65 581.73 1345.03 584.08 1345.32C586.42 1345.61 589.21 1345.93 590.24 1346.05"/>
<path stroke="#008000" d="M287.56 1309.97C287.64 1308.58 287.88 1304.38 288.03 1301.60C288.18 1298.83 288.33 1296.06 288.46 1293.30C288.60 1290.54 288.73 1287.79 288.86 1285.05C288.99 1282.30 289.11 1279.56 289.23 1276.83C289.36 1274.09 289.47 1271.36 289.59 1268.64C289.70 1265.91 289.81 1263.19 289.92 1260.47C290.03 1257.75 290.14 1255.04 290.25 1252.32C290.35 1249.61 290.46 1246.90 290.56 1244.19C290.66 1241.48 290.76 1238.77 290.86 1236.07C290.96 1233.37 291.05 1230.66 291.15 1227.96C291.25 1225.26 291.34 1222.56 291.43 1219.86C291.53 1217.17 291.62 1214.47 291.71 1211.77C291.80 1209.08 291.89 1206.38 291.98 1203.69C292.07 1201.00 292.16 1198.31 292.24 1195.62C292.33 1192.92 292.42 1190.24 292.50 1187.55C292.59 1184.86 292.67 1182.17 292.76 1179.48C292.84 1176.79 292.92 1174.11 293.01 1171.42C293.09 1168.74 293.17 1166.05 293.25 1163.37C293.33 1160.68 293.41 1158.00 293.49 1155.32C293.57 1152.64 293.65 1149.95 293.73 1147.27C293.81 1144.59 293.89 1141.91 293.97 1139.23C294.05 1136.55 294.13 1133.87 294.20 1131.19C294.28 1128.51 294.36 1125.83 294.43 1123.15C294.51 1120.47 294.59 1117.80 294.66 1115.12C294.74 1112.44 294.81 1109.76 294.89 1107.09C294.96 1104.41 295.04 1101.73 295.11 1099.06C295.19 1096.38 295.26 1093.71 295.34 1091.03C295.41 1088.36 295.49 1085.68 295.56 1083.01C295.63 1080.33 295.71 1077.66 295.78 1074.98C295.85 1072.31 295.92 1069.64 296.00 1066.96C296.07 1064.29 296.14 1061.62 296.21 1058.94C296.29 1056.27 296.36 1053.60 296.43 1050.93C296.50 1048.26 296.57 1045.58 296.65 1042.91C296.72 1040.24 296.79 1037.57 296.86 1034.90C296.93 1032.23 297.00 1029.56 297.07 1026.89C297.14 1024.22 297.21 1021.55 297.28 1018.88C297.36 1016.21 297.43 1013.54 297.50 1010.87C297.57 1008.20 297.64 1005.53 297.71 1002.86C297.78 1000.19 297.85 997.52 297.92 994.85C297.99 992.18 298.06 989.52 298.13 986.85C298.20 984.18 298.27 981.51 298.34 978.84C298.41 976.18 298.48 973.51 298.55 970.84C298.62 968.17 298.69 965.51 298.76 962.84C298.83 960.17 298.89 957.51 298.96 954.84C299.03 952.17 299.10 949.51 299.17 946.84C299.24 944.17 299.31 941.51 299.38 938.84C299.45 936.17 299.52 933.51 299.59 930.84C299.66 928.18 299.73 925.51 299.80 922.85C299.87 920.18 299.94 917.52 300.01 914.85C300.08 912.19 300.15 909.52 300.22 906.86C300.29 904.19 300.35 901.53 300.42 898.86C300.49 896.20 300.56 893.54 300.63 890.87C300.70 888.21 300.77 885.54 300.84 882.88C300.91 880.22 300.98 877.55 301.05 874.89C301.12 872.23 301.19 869.56 301.26 866.90C301.33 864.24 301.40 861.57 301.47 858.91C301.54 856.25 301.61 853.58 301.68 850.92C301.75 848.26 301.82 845.60 301.89 842.93C301.96 840.27 302.04 837.61 302.11 834.95C302.18 832.29 302.25 829.62 302.32 826.96C302.39 824.30 302.46 821.64 302.53 818.98C302.60 816.32 302.67 813.66 302.75 810.99C302.82 808.33 302.89 805.67 302.96 803.01C303.03 800.35 303.10 797.69 303.17 795.03C303.25 792.37 303.32 789.71 303.39 787.05C303.46 784.39 303.54 781.73 303.61 779.07C303.68 776.41 303.75 773.75 303.83 771.09C303.90 768.43 303.97 765.77 304.04 763.11C304.12 760.45 304.19 757.79 304.26 755.13C304.34 752.47 304.41 749.81 304.48 747.15C304.56 744.49 304.63 741.84 304.71 739.18C304.78 736.52 304.85 733.86 304.93 731.20C305.00 728.54 305.08 725.88 305.15 723.23C305.23 720.57 305.30 717.91 305.38 715.25C305.45 712.60 305.53 709.94 305.61 707.28C305.68 704.62 305.76 701.97 305.83 699.31C305.91 696.65 305.99 693.99 306.06 691.34C306.14 688.68 306.22 686.02 306.30 683.37C306.37 680.71 306.45 678.05 306.53 675.40C306.61 672.74 306.68 670.08 306.76 667.43C306.84 664.77 306.92 662.12 307.00 659.46C307.08 656.81 307.16 654.15 307.24 651.49C307.32 648.84 307.39 646.18 307.48 643.53C307.56 640.87 307.64 638.22 307.72 635.56C307.80 632.91 307.88 630.25 307.96 627.60C308.04 624.95 308.12 622.29 308.21 619.64C308.29 616.98 308.37 614.33 308.45 611.68C308.54 609.02 308.62 606.37 308.70 603.72C308.79 601.06 308.87 598.41 308.95 595.76C309.04 593.10 309.12 590.45 309.21 587.80C309.29 585.15 309.38 582.49 309.46 579.84C309.55 577.19 309.64 574.54 309.72 571.88C309.81 569.23 309.90 566.58 309.99 563.93C310.07 561.28 310.16 558.63 310.25 555.98C310.34 553.33 310.43 550.67 310.52 548.02C310.61 545.37 310.70 542.72 310.79 540.07C310.88 537.42 310.97 534.77 311.06 532.12C311.15 529.47 311.24 526.82 311.34 524.18C311.43 521.53 311.52 518.88 311.62 516.23C311.71 513.58 311.81 510.93 311.90 508.28C311.99 505.64 312.09 502.99 312.19 500.34C312.28 497.69 312.38 495.04 312.48 492.40C312.57 489.75 312.67 487.10 312.77 484.46C312.87 481.81 312.97 479.16 313.07 476.52C313.17 473.87 313.27 471.23 313.37 468.58C313.47 465.94 313.58 463.29 313.68 460.65C313.78 458.00 313.89 455.36 313.99 452.71C314.10 450.07 314.20 447.43 314.31 444.78C314.41 442.14 314.52 439.50 314.63 436.86C314.74 434.21 314.85 431.57 314.96 428.93C315.07 426.29 315.18 423.65 315.29 421.01C315.40 418.36 315.51 415.72 315.63 413.08C315.74 410.44 315.86 407.80 315.97 405.17C316.09 402.53 316.21 399.89 316.32 397.25C316.44 394.61 316.56 391.97 316.68 389.34C316.80 386.70 316.92 384.06 317.05 381.43C317.17 378.79 317.29 376.16 317.42 373.52C317.55 370.89 317.67 368.25 317.80 365.62C317.93 362.99 318.06 360.35 318.19 357.72C318.32 355.09 318.46 352.46 318.59 349.83C318.73 347.20 318.86 344.57 319.00 341.94C319.14 339.31 319.28 336.68 319.42 334.05C319.56 331.43 319.70 328.80 319.85 326.18C320.00 323.55 320.14 320.93 320.29 318.30C320.44 315.68 320.59 313.06 320.75 310.44C320.90 307.81 321.06 305.19 321.22 302.58C321.38 299.96 321.54 297.34 321.70 294.72C321.87 292.11 322.04 289.49 322.21 286.88C322.38 284.27 322.55 281.66 322.73 279.05C322.90 276.44 323.08 273.83 323.27 271.22C323.45 268.62 323.64 266.02 323.83 263.41C324.02 260.81 324.22 258.21 324.42 255.62C324.62 253.02 324.82 250.43 325.03 247.84C325.24 245.25 325.46 242.66 325.68 240.08C325.90 237.49 326.13 234.91 326.37 232.34C326.60 229.76 326.84 227.19 327.09 224.63C327.34 222.06 327.60 219.50 327.87 216.95C328.13 214.40 328.41 211.85 328.70 209.31C328.99 206.78 329.29 204.25 329.60 201.73C329.92 199.22 330.25 196.71 330.60 194.22C330.95 191.74 331.32 189.26 331.71 186.82C332.11 184.37 332.52 181.94 332.99 179.56C333.45 177.19 333.93 174.81 334.50 172.57C335.07 170.32 335.64 168.01 336.41 166.08C337.19 164.14 337.77 161.38 339.15 160.95C340.53 160.51 343.13 161.36 344.70 163.47C346.27 165.58 347.54 170.47 348.56 173.59C349.58 176.70 350.14 179.34 350.83 182.16C351.52 184.98 352.11 187.73 352.70 190.48C353.29 193.24 353.83 195.96 354.36 198.69C354.88 201.42 355.38 204.13 355.87 206.84C356.36 209.54 356.83 212.24 357.29 214.94C357.75 217.64 358.19 220.33 358.63 223.02C359.07 225.71 359.49 228.39 359.91 231.07C360.33 233.75 360.74 236.43 361.14 239.11C361.55 241.79 361.95 244.46 362.34 247.14C362.73 249.81 363.12 252.48 363.50 255.15C363.88 257.82 364.26 260.49 364.64 263.16C365.01 265.83 365.38 268.49 365.75 271.16C366.11 273.83 366.48 276.49 366.84 279.15C367.20 281.82 367.55 284.48 367.91 287.14C368.26 289.80 368.61 292.46 368.96 295.12C369.31 297.78 369.66 300.44 370.01 303.10C370.35 305.76 370.70 308.42 371.04 311.08C371.38 313.73 371.72 316.39 372.06 319.05C372.40 321.70 372.74 324.36 373.07 327.01C373.41 329.67 373.74 332.32 374.08 334.98C374.41 337.63 374.74 340.29 375.07 342.94C375.41 345.59 375.74 348.25 376.07 350.90C376.40 353.55 376.72 356.20 377.05 358.86C377.38 361.51 377.71 364.16 378.04 366.81C378.36 369.46 378.69 372.11 379.02 374.76C379.34 377.41 379.67 380.06 379.99 382.71C380.32 385.36 380.64 388.01 380.97 390.66C381.29 393.31 381.61 395.96 381.94 398.61C382.26 401.25 382.59 403.90 382.91 406.55C383.23 409.20 383.56 411.84 383.88 414.49C384.20 417.14 384.53 419.79 384.85 422.43C385.17 425.08 385.50 427.72 385.82 430.37C386.14 433.02 386.47 435.66 386.79 438.31C387.12 440.95 387.44 443.60 387.76 446.24C388.09 448.89 388.41 451.53 388.74 454.18C389.06 456.82 389.39 459.46 389.71 462.11C390.04 464.75 390.37 467.39 390.69 470.04C391.02 472.68 391.34 475.32 391.67 477.97C392.00 480.61 392.33 483.25 392.66 485.89C392.98 488.53 393.31 491.18 393.64 493.82C393.97 496.46 394.30 499.10 394.63 501.74C394.96 504.38 395.29 507.02 395.62 509.66C395.96 512.30 396.29 514.94 396.62 517.58C396.96 520.22 397.29 522.86 397.62 525.50C397.96 528.14 398.29 530.78 398.63 533.42C398.97 536.06 399.30 538.69 399.64 541.33C399.98 543.97 400.32 546.61 400.66 549.25C401.00 551.88 401.34 554.52 401.68 557.16C402.02 559.79 402.37 562.43 402.71 565.07C403.06 567.70 403.40 570.34 403.75 572.97C404.09 575.61 404.44 578.25 404.79 580.88C405.14 583.52 405.48 586.15 405.84 588.78C406.19 591.42 406.54 594.05 406.89 596.69C407.24 599.32 407.60 601.95 407.95 604.59C408.31 607.22 408.66 609.85 409.02 612.49C409.38 615.12 409.74 617.75 410.10 620.38C410.46 623.01 410.82 625.64 411.19 628.28C411.55 630.91 411.92 633.54 412.28 636.17C412.65 638.80 413.02 641.43 413.39 644.06C413.76 646.69 414.13 649.32 414.50 651.95C414.87 654.57 415.25 657.20 415.62 659.83C416.00 662.46 416.38 665.09 416.75 667.71C417.13 670.34 417.51 672.97 417.90 675.60C418.28 678.22 418.66 680.85 419.05 683.47C419.44 686.10 419.83 688.72 420.22 691.35C420.61 693.97 421.00 696.60 421.39 699.22C421.79 701.85 422.18 704.47 422.58 707.09C422.98 709.72 423.38 712.34 423.78 714.96C424.18 717.58 424.58 720.20 424.99 722.83C425.40 725.45 425.81 728.07 426.22 730.69C426.63 733.31 427.04 735.93 427.45 738.55C427.87 741.17 428.29 743.78 428.71 746.40C429.13 749.02 429.55 751.64 429.97 754.26C430.40 756.87 430.83 759.49 431.25 762.10C431.68 764.72 432.12 767.34 432.55 769.95C432.99 772.57 433.42 775.18 433.86 777.79C434.30 780.41 434.75 783.02 435.19 785.63C435.64 788.24 436.09 790.86 436.54 793.47C436.99 796.08 437.44 798.69 437.90 801.30C438.36 803.91 438.82 806.52 439.28 809.12C439.74 811.73 440.21 814.34 440.68 816.95C441.15 819.55 441.62 822.16 442.10 824.76C442.57 827.37 443.05 829.97 443.53 832.58C444.02 835.18 444.50 837.78 444.99 840.38C445.48 842.99 445.97 845.59 446.47 848.19C446.97 850.79 447.47 853.39 447.97 855.99C448.47 858.58 448.98 861.18 449.49 863.78C450.00 866.37 450.52 868.97 451.04 871.56C451.56 874.16 452.08 876.75 452.61 879.34C453.14 881.94 453.67 884.53 454.20 887.12C454.74 889.71 455.28 892.30 455.83 894.89C456.37 897.47 456.92 900.06 457.47 902.65C458.03 905.23 458.58 907.82 459.15 910.40C459.71 912.98 460.28 915.57 460.85 918.15C461.43 920.73 462.00 923.31 462.59 925.89C463.17 928.46 463.76 931.04 464.35 933.61C464.94 936.19 465.54 938.76 466.15 941.34C466.75 943.91 467.36 946.48 467.98 949.05C468.59 951.62 469.21 954.18 469.84 956.75C470.47 959.31 471.10 961.88 471.74 964.44C472.38 967.00 473.03 969.56 473.68 972.12C474.33 974.68 474.99 977.24 475.66 979.79C476.32 982.35 476.99 984.90 477.67 987.45C478.35 990.00 479.04 992.55 479.73 995.09C480.42 997.64 481.12 1000.18 481.83 1002.72C482.54 1005.27 483.26 1007.81 483.98 1010.34C484.70 1012.88 485.43 1015.41 486.17 1017.94C486.91 1020.47 487.66 1023.00 488.42 1025.53C489.17 1028.05 489.94 1030.58 490.71 1033.10C491.48 1035.62 492.27 1038.13 493.06 1040.65C493.85 1043.16 494.65 1045.67 495.46 1048.18C496.27 1050.68 497.09 1053.19 497.92 1055.69C498.76 1058.19 499.60 1060.68 500.45 1063.18C501.30 1065.67 502.16 1068.16 503.03 1070.64C503.91 1073.12 504.79 1075.60 505.69 1078.08C506.58 1080.55 507.49 1083.02 508.41 1085.49C509.33 1087.96 510.26 1090.42 511.20 1092.87C512.15 1095.33 513.10 1097.78 514.07 1100.22C515.04 1102.67 516.03 1105.11 517.02 1107.54C518.02 1109.98 519.03 1112.40 520.05 1114.82C521.08 1117.25 522.12 1119.66 523.17 1122.07C524.23 1124.48 525.30 1126.88 526.38 1129.27C527.47 1131.66 528.57 1134.05 529.69 1136.43C530.80 1138.80 531.94 1141.17 533.09 1143.53C534.24 1145.90 535.41 1148.25 536.60 1150.59C537.78 1152.93 538.99 1155.27 540.21 1157.59C541.44 1159.91 542.68 1162.23 543.94 1164.53C545.20 1166.83 546.48 1169.12 547.78 1171.40C549.09 1173.68 550.41 1175.95 551.75 1178.20C553.10 1180.46 554.46 1182.70 555.85 1184.93C557.23 1187.16 558.64 1189.37 560.07 1191.57C561.51 1193.77 562.96 1195.96 564.44 1198.12C565.92 1200.29 567.42 1202.45 568.94 1204.58C570.47 1206.72 572.02 1208.83 573.60 1210.93C575.17 1213.03 576.77 1215.11 578.40 1217.18C580.02 1219.24 581.67 1221.28 583.35 1223.30C585.03 1225.32 586.73 1227.32 588.46 1229.29C590.19 1231.27 591.94 1233.23 593.73 1235.16C595.51 1237.09 597.32 1238.99 599.16 1240.87C600.99 1242.75 602.85 1244.61 604.74 1246.44C606.63 1248.27 608.55 1250.07 610.49 1251.85C612.43 1253.62 614.40 1255.37 616.40 1257.09C618.39 1258.80 620.41 1260.49 622.46 1262.15C624.50 1263.81 626.58 1265.44 628.67 1267.04C630.77 1268.64 632.89 1270.21 635.03 1271.74C637.18 1273.28 639.34 1274.79 641.53 1276.26C643.72 1277.73 645.94 1279.18 648.17 1280.59C650.40 1282.00 652.66 1283.37 654.94 1284.72C657.21 1286.07 659.51 1287.38 661.82 1288.66C664.14 1289.94 666.47 1291.19 668.82 1292.41C671.17 1293.63 673.54 1294.82 675.92 1295.98C678.31 1297.13 680.71 1298.26 683.12 1299.35C685.53 1300.45 687.96 1301.52 690.40 1302.55C692.85 1303.59 695.30 1304.60 697.77 1305.57C700.24 1306.55 702.72 1307.50 705.20 1308.43C707.69 1309.35 710.20 1310.25 712.71 1311.12C715.22 1311.99 717.74 1312.83 720.26 1313.65C722.79 1314.47 725.33 1315.27 727.87 1316.04C730.42 1316.81 732.97 1317.56 735.53 1318.28C738.09 1319.01 740.65 1319.71 743.23 1320.39C745.80 1321.08 748.38 1321.74 750.96 1322.38C753.54 1323.02 756.13 1323.64 758.72 1324.24C761.32 1324.84 763.92 1325.43 766.52 1325.99C769.12 1326.56 771.72 1327.10 774.33 1327.63C776.94 1328.17 779.56 1328.68 782.17 1329.18C784.79 1329.68 787.41 1330.16 790.03 1330.63C792.65 1331.10 795.28 1331.55 797.91 1331.99C800.54 1332.43 803.17 1332.86 805.80 1333.27C808.43 1333.68 811.06 1334.08 813.70 1334.47C816.34 1334.86 818.98 1335.24 821.62 1335.60C824.26 1335.97 826.90 1336.32 829.54 1336.66C832.18 1337.01 834.83 1337.34 837.47 1337.66C840.12 1337.99 842.77 1338.30 845.41 1338.60C848.06 1338.91 850.71 1339.20 853.36 1339.48C856.01 1339.77 858.66 1340.05 861.32 1340.32C863.97 1340.59 866.62 1340.85 869.28 1341.10C871.93 1341.35 874.58 1341.60 877.24 1341.84C879.90 1342.07 882.55 1342.31 885.21 1342.53C887.86 1342.76 890.52 1342.97 893.18 1343.19C895.84 1343.40 898.50 1343.60 901.15 1343.80C903.81 1344.00 906.47 1344.20 909.13 1344.38C911.79 1344.57 914.45 1344.76 917.11 1344.93C919.77 1345.11 922.43 1345.28 925.09 1345.45C927.75 1345.62 930.42 1345.78 933.08 1345.94C935.74 1346.10 938.40 1346.25 941.06 1346.40C943.73 1346.55 946.39 1346.70 949.05 1346.84C951.71 1346.98 954.38 1347.12 957.04 1347.25C959.70 1347.39 962.37 1347.52 965.03 1347.64C967.69 1347.77 970.36 1347.89 973.02 1348.01C975.68 1348.13 978.35 1348.25 981.01 1348.36C983.68 1348.48 986.34 1348.59 989.01 1348.69C991.67 1348.80 994.33 1348.90 997.00 1349.01C999.66 1349.11 1002.33 1349.21 1004.99 1349.30C1007.66 1349.40 1010.32 1349.49 1012.99 1349.58C1015.65 1349.67 1018.32 1349.76 1020.98 1349.85C1023.65 1349.94 1026.31 1350.02 1028.98 1350.10C1031.64 1350.18 1034.31 1350.26 1036.98 1350.34C1039.64 1350.42 1043.00 1350.51 1044.97 1350.57C1046.94 1350.63 1048.15 1350.66 1048.78 1350.67"/>
</g>
<g id="inset">
<rect x="815.10" y="74.00" width="644.30" height="473.40" fill="#fff" stroke="#000" stroke-width="9.20"/>
<g fill="none" stroke-width="9.50" stroke-linecap="round" stroke-linejoin="round" clip-path="url(#ci)">
<path stroke="#000000" d="M962.35 594.74C962.65 593.45 963.52 589.56 964.11 586.97C964.70 584.39 965.30 581.80 965.89 579.21C966.49 576.63 967.09 574.04 967.69 571.46C968.29 568.87 968.90 566.29 969.50 563.71C970.11 561.12 970.72 558.54 971.33 555.96C971.95 553.38 972.56 550.80 973.19 548.22C973.81 545.64 974.43 543.06 975.06 540.49C975.68 537.91 976.31 535.34 976.95 532.76C977.58 530.19 978.22 527.61 978.86 525.04C979.50 522.47 980.15 519.90 980.79 517.33C981.44 514.76 982.10 512.19 982.75 509.62C983.41 507.05 984.07 504.49 984.74 501.92C985.40 499.36 986.07 496.79 986.74 494.23C987.42 491.67 988.10 489.11 988.78 486.55C989.46 483.99 990.15 481.43 990.84 478.88C991.53 476.32 992.23 473.76 992.93 471.21C993.63 468.66 994.34 466.11 995.05 463.56C995.76 461.01 996.48 458.46 997.20 455.91C997.92 453.37 998.65 450.82 999.38 448.28C1000.12 445.74 1000.85 443.20 1001.60 440.66C1002.34 438.12 1003.09 435.58 1003.85 433.05C1004.61 430.51 1005.37 427.98 1006.14 425.45C1006.91 422.92 1007.68 420.39 1008.47 417.87C1009.25 415.34 1010.04 412.82 1010.83 410.30C1011.63 407.78 1012.43 405.26 1013.24 402.75C1014.05 400.23 1014.87 397.72 1015.70 395.21C1016.52 392.70 1017.36 390.19 1018.20 387.69C1019.04 385.19 1019.89 382.69 1020.75 380.19C1021.60 377.69 1022.47 375.20 1023.34 372.71C1024.22 370.22 1025.10 367.73 1026.00 365.25C1026.89 362.77 1027.79 360.29 1028.71 357.82C1029.62 355.34 1030.54 352.87 1031.48 350.40C1032.41 347.94 1033.35 345.48 1034.31 343.02C1035.26 340.56 1036.23 338.11 1037.20 335.66C1038.18 333.22 1039.17 330.78 1040.17 328.34C1041.17 325.90 1042.19 323.47 1043.21 321.05C1044.24 318.63 1045.28 316.21 1046.33 313.80C1047.38 311.38 1048.45 308.98 1049.53 306.58C1050.62 304.18 1051.71 301.79 1052.82 299.41C1053.94 297.03 1055.06 294.65 1056.21 292.29C1057.35 289.92 1058.51 287.57 1059.69 285.22C1060.87 282.87 1062.06 280.53 1063.28 278.21C1064.50 275.88 1065.73 273.56 1066.98 271.26C1068.24 268.96 1069.51 266.66 1070.81 264.38C1072.10 262.11 1073.42 259.84 1074.76 257.59C1076.10 255.34 1077.46 253.10 1078.85 250.88C1080.24 248.66 1081.65 246.45 1083.09 244.27C1084.53 242.08 1086.00 239.91 1087.49 237.77C1088.99 235.62 1090.51 233.50 1092.07 231.39C1093.62 229.29 1095.20 227.21 1096.82 225.16C1098.44 223.11 1100.09 221.08 1101.77 219.09C1103.46 217.10 1105.18 215.13 1106.94 213.20C1108.69 211.27 1110.49 209.37 1112.32 207.52C1114.16 205.66 1116.03 203.84 1117.94 202.07C1119.86 200.30 1121.81 198.57 1123.82 196.90C1125.82 195.22 1127.86 193.59 1129.95 192.03C1132.04 190.46 1134.17 188.95 1136.35 187.51C1138.52 186.07 1140.75 184.68 1143.01 183.38C1145.28 182.08 1147.59 180.84 1149.95 179.69C1152.30 178.54 1154.70 177.47 1157.13 176.48C1159.57 175.50 1162.04 174.60 1164.55 173.80C1167.06 172.99 1169.60 172.28 1172.17 171.66C1174.73 171.04 1177.33 170.52 1179.95 170.10C1182.56 169.67 1185.20 169.35 1187.84 169.11C1190.49 168.88 1193.15 168.74 1195.81 168.70C1198.47 168.65 1201.14 168.70 1203.81 168.83C1206.47 168.96 1209.14 169.18 1211.80 169.48C1214.46 169.77 1217.11 170.16 1219.75 170.61C1222.39 171.05 1225.02 171.58 1227.64 172.17C1230.25 172.75 1232.85 173.41 1235.44 174.12C1238.03 174.83 1240.60 175.61 1243.15 176.43C1245.71 177.25 1248.25 178.12 1250.77 179.04C1253.29 179.96 1255.80 180.93 1258.28 181.94C1260.77 182.94 1263.24 184.00 1265.70 185.08C1268.15 186.16 1270.59 187.29 1273.02 188.44C1275.44 189.59 1277.85 190.78 1280.24 191.99C1282.63 193.21 1285.01 194.45 1287.37 195.72C1289.74 196.99 1292.09 198.28 1294.42 199.60C1296.76 200.91 1299.08 202.25 1301.39 203.61C1303.70 204.97 1306.00 206.36 1308.29 207.75C1310.57 209.15 1312.85 210.57 1315.11 212.00C1317.37 213.43 1319.63 214.88 1321.87 216.35C1324.11 217.81 1326.34 219.29 1328.57 220.78C1330.79 222.28 1333.01 223.78 1335.21 225.30C1337.42 226.82 1339.61 228.35 1341.80 229.89C1343.99 231.43 1346.17 232.98 1348.34 234.54C1350.52 236.10 1352.68 237.67 1354.84 239.25C1357.00 240.83 1359.15 242.42 1361.30 244.01C1363.44 245.61 1365.58 247.21 1367.72 248.82C1369.85 250.43 1371.98 252.05 1374.10 253.68C1376.22 255.30 1378.34 256.93 1380.45 258.57C1382.57 260.21 1384.67 261.85 1386.78 263.50C1388.88 265.15 1390.98 266.80 1393.07 268.46C1395.17 270.12 1397.26 271.78 1399.35 273.45C1401.43 275.12 1403.52 276.79 1405.60 278.46C1407.68 280.14 1409.75 281.82 1411.83 283.50C1413.90 285.19 1415.97 286.87 1418.04 288.56C1420.10 290.25 1422.17 291.94 1424.23 293.64C1426.29 295.33 1428.35 297.03 1430.41 298.73C1432.47 300.43 1434.53 302.13 1436.58 303.84C1438.63 305.54 1440.69 307.25 1442.74 308.96C1444.79 310.66 1446.84 312.37 1448.88 314.09C1450.93 315.80 1452.98 317.51 1455.02 319.22C1457.07 320.94 1459.11 322.65 1461.15 324.37C1463.19 326.09 1465.24 327.80 1467.28 329.52C1469.32 331.24 1472.38 333.82 1473.40 334.68"/>
<path stroke="#ff0000" d="M854.67 594.74C854.73 593.41 854.91 589.43 855.03 586.77C855.15 584.12 855.27 581.47 855.39 578.81C855.51 576.16 855.63 573.50 855.76 570.85C855.88 568.19 856.00 565.54 856.13 562.89C856.25 560.23 856.37 557.58 856.50 554.93C856.62 552.28 856.75 549.62 856.87 546.97C857.00 544.32 857.12 541.67 857.25 539.02C857.38 536.36 857.50 533.71 857.63 531.06C857.76 528.41 857.89 525.76 858.02 523.11C858.14 520.46 858.27 517.81 858.40 515.16C858.53 512.51 858.66 509.86 858.80 507.21C858.93 504.56 859.06 501.91 859.19 499.26C859.33 496.61 859.46 493.96 859.59 491.32C859.73 488.67 859.86 486.02 860.00 483.37C860.14 480.73 860.27 478.08 860.41 475.43C860.55 472.79 860.69 470.14 860.83 467.49C860.96 464.85 861.10 462.20 861.25 459.56C861.39 456.91 861.53 454.27 861.67 451.62C861.82 448.98 861.96 446.33 862.10 443.69C862.25 441.05 862.40 438.40 862.54 435.76C862.69 433.12 862.84 430.48 862.99 427.84C863.14 425.19 863.29 422.55 863.44 419.91C863.59 417.27 863.75 414.63 863.90 411.99C864.05 409.35 864.21 406.71 864.37 404.07C864.52 401.44 864.68 398.80 864.84 396.16C865.00 393.52 865.16 390.89 865.33 388.25C865.49 385.61 865.65 382.98 865.82 380.34C865.99 377.71 866.15 375.07 866.32 372.44C866.49 369.81 866.66 367.18 866.84 364.54C867.01 361.91 867.19 359.28 867.36 356.65C867.54 354.02 867.72 351.39 867.90 348.76C868.08 346.13 868.26 343.51 868.45 340.88C868.64 338.25 868.82 335.63 869.01 333.00C869.20 330.38 869.40 327.75 869.59 325.13C869.79 322.51 869.99 319.89 870.19 317.27C870.39 314.65 870.59 312.03 870.80 309.41C871.01 306.79 871.22 304.18 871.43 301.56C871.64 298.95 871.86 296.34 872.08 293.73C872.30 291.12 872.53 288.51 872.76 285.90C872.99 283.29 873.22 280.69 873.46 278.08C873.70 275.48 873.94 272.88 874.19 270.28C874.43 267.68 874.69 265.09 874.95 262.50C875.21 259.90 875.47 257.31 875.74 254.73C876.01 252.14 876.29 249.56 876.58 246.98C876.86 244.40 877.15 241.83 877.46 239.26C877.76 236.69 878.07 234.13 878.39 231.57C878.71 229.01 879.04 226.46 879.39 223.91C879.73 221.37 880.09 218.83 880.46 216.31C880.83 213.78 881.22 211.26 881.62 208.76C882.03 206.26 882.45 203.77 882.90 201.30C883.36 198.83 883.82 196.37 884.34 193.95C884.85 191.53 885.38 189.12 885.98 186.79C886.58 184.45 887.20 182.11 887.94 179.93C888.68 177.74 889.41 175.48 890.43 173.68C891.44 171.88 892.28 169.19 894.04 169.13C895.80 169.07 899.14 171.09 900.99 173.30C902.83 175.52 903.95 179.49 905.10 182.40C906.24 185.31 907.01 188.00 907.85 190.76C908.70 193.52 909.43 196.24 910.15 198.95C910.88 201.67 911.54 204.36 912.20 207.06C912.85 209.75 913.47 212.44 914.08 215.12C914.68 217.80 915.26 220.48 915.83 223.15C916.40 225.82 916.96 228.49 917.50 231.16C918.05 233.82 918.58 236.49 919.10 239.15C919.62 241.81 920.13 244.47 920.64 247.13C921.14 249.79 921.64 252.45 922.13 255.10C922.62 257.76 923.11 260.41 923.58 263.06C924.06 265.72 924.54 268.37 925.01 271.02C925.47 273.67 925.94 276.32 926.40 278.97C926.86 281.62 927.32 284.26 927.77 286.91C928.22 289.56 928.67 292.20 929.12 294.85C929.56 297.50 930.01 300.14 930.45 302.78C930.89 305.43 931.33 308.07 931.77 310.72C932.20 313.36 932.64 316.00 933.07 318.64C933.50 321.28 933.94 323.93 934.37 326.57C934.79 329.21 935.22 331.85 935.65 334.49C936.08 337.13 936.50 339.77 936.93 342.41C937.35 345.05 937.77 347.68 938.20 350.32C938.62 352.96 939.04 355.60 939.46 358.23C939.88 360.87 940.30 363.51 940.72 366.14C941.14 368.78 941.56 371.42 941.98 374.05C942.40 376.69 942.82 379.32 943.24 381.96C943.66 384.59 944.08 387.22 944.50 389.86C944.91 392.49 945.33 395.12 945.75 397.76C946.17 400.39 946.59 403.02 947.01 405.65C947.43 408.29 947.84 410.92 948.26 413.55C948.68 416.18 949.10 418.81 949.52 421.44C949.94 424.07 950.36 426.70 950.79 429.33C951.21 431.96 951.63 434.59 952.05 437.22C952.47 439.85 952.90 442.47 953.32 445.10C953.74 447.73 954.17 450.36 954.59 452.98C955.02 455.61 955.45 458.24 955.87 460.86C956.30 463.49 956.73 466.11 957.16 468.74C957.59 471.36 958.02 473.99 958.45 476.61C958.88 479.24 959.31 481.86 959.75 484.48C960.18 487.11 960.62 489.73 961.05 492.35C961.49 494.97 961.93 497.60 962.37 500.22C962.80 502.84 963.25 505.46 963.69 508.08C964.13 510.70 964.57 513.32 965.02 515.94C965.46 518.56 965.91 521.18 966.36 523.80C966.81 526.41 967.26 529.03 967.71 531.65C968.16 534.27 968.62 536.88 969.07 539.50C969.53 542.11 969.99 544.73 970.45 547.34C970.91 549.96 971.37 552.57 971.83 555.19C972.30 557.80 972.76 560.41 973.23 563.03C973.70 565.64 974.17 568.25 974.64 570.86C975.11 573.47 975.59 576.08 976.07 578.69C976.54 581.30 977.02 583.91 977.51 586.52C977.99 589.13 978.47 591.74 978.96 594.34C979.45 596.95 980.19 600.86 980.43 602.16"/>
<path stroke="#0000ff" d="M882.39 594.74C882.50 593.42 882.84 589.45 883.07 586.80C883.30 584.15 883.53 581.51 883.76 578.86C883.99 576.22 884.22 573.57 884.45 570.93C884.69 568.28 884.92 565.64 885.16 562.99C885.39 560.35 885.63 557.70 885.86 555.06C886.10 552.41 886.34 549.77 886.58 547.13C886.81 544.48 887.05 541.84 887.30 539.20C887.54 536.56 887.78 533.92 888.02 531.27C888.27 528.63 888.51 525.99 888.76 523.35C889.00 520.71 889.25 518.07 889.50 515.43C889.75 512.79 890.00 510.15 890.25 507.51C890.50 504.87 890.76 502.23 891.01 499.59C891.26 496.95 891.52 494.31 891.78 491.68C892.04 489.04 892.29 486.40 892.56 483.77C892.82 481.13 893.08 478.49 893.34 475.86C893.61 473.22 893.87 470.59 894.14 467.95C894.41 465.32 894.68 462.68 894.95 460.05C895.22 457.41 895.50 454.78 895.77 452.15C896.05 449.52 896.32 446.88 896.60 444.25C896.88 441.62 897.17 438.99 897.45 436.36C897.73 433.73 898.02 431.10 898.31 428.47C898.60 425.84 898.89 423.21 899.18 420.59C899.48 417.96 899.77 415.33 900.07 412.71C900.37 410.08 900.67 407.45 900.97 404.83C901.28 402.20 901.58 399.58 901.89 396.96C902.20 394.33 902.52 391.71 902.83 389.09C903.15 386.47 903.47 383.85 903.79 381.23C904.11 378.61 904.44 375.99 904.77 373.38C905.09 370.76 905.43 368.14 905.76 365.53C906.10 362.91 906.44 360.30 906.78 357.68C907.13 355.07 907.47 352.46 907.83 349.85C908.18 347.24 908.54 344.63 908.90 342.02C909.26 339.41 909.62 336.81 909.99 334.20C910.36 331.60 910.74 329.00 911.12 326.39C911.50 323.79 911.89 321.19 912.28 318.59C912.67 316.00 913.07 313.40 913.47 310.81C913.88 308.21 914.28 305.62 914.70 303.03C915.12 300.44 915.54 297.85 915.97 295.27C916.40 292.68 916.84 290.10 917.29 287.52C917.73 284.94 918.19 282.37 918.65 279.79C919.11 277.22 919.59 274.65 920.07 272.09C920.55 269.52 921.04 266.96 921.55 264.40C922.05 261.84 922.56 259.29 923.09 256.74C923.62 254.19 924.15 251.65 924.71 249.11C925.26 246.57 925.83 244.04 926.41 241.51C927.00 238.99 927.59 236.47 928.21 233.96C928.83 231.46 929.47 228.95 930.13 226.46C930.79 223.98 931.47 221.49 932.18 219.03C932.88 216.57 933.61 214.11 934.38 211.68C935.15 209.24 935.94 206.82 936.78 204.43C937.62 202.04 938.49 199.66 939.42 197.33C940.35 195.00 941.32 192.68 942.37 190.43C943.42 188.19 944.51 185.96 945.73 183.84C946.95 181.73 948.22 179.63 949.67 177.75C951.13 175.86 952.66 173.97 954.48 172.54C956.30 171.11 958.29 169.66 960.60 169.14C962.90 168.62 965.76 168.62 968.30 169.43C970.85 170.24 973.60 172.20 975.88 174.02C978.15 175.84 980.09 178.14 981.95 180.34C983.81 182.53 985.44 184.87 987.03 187.19C988.63 189.52 990.09 191.90 991.52 194.29C992.95 196.68 994.29 199.10 995.60 201.52C996.91 203.95 998.17 206.39 999.40 208.84C1000.63 211.28 1001.82 213.74 1002.99 216.21C1004.15 218.67 1005.29 221.15 1006.40 223.62C1007.52 226.10 1008.61 228.58 1009.69 231.07C1010.77 233.55 1011.82 236.05 1012.86 238.54C1013.91 241.03 1014.94 243.53 1015.95 246.03C1016.97 248.53 1017.97 251.03 1018.96 253.54C1019.96 256.04 1020.94 258.55 1021.91 261.06C1022.88 263.56 1023.85 266.08 1024.80 268.59C1025.76 271.10 1026.71 273.61 1027.65 276.13C1028.59 278.64 1029.52 281.15 1030.45 283.67C1031.38 286.19 1032.31 288.70 1033.23 291.22C1034.14 293.74 1035.06 296.26 1035.97 298.78C1036.88 301.30 1037.78 303.82 1038.68 306.34C1039.59 308.86 1040.48 311.38 1041.38 313.90C1042.28 316.42 1043.17 318.94 1044.06 321.46C1044.95 323.98 1045.83 326.51 1046.72 329.03C1047.61 331.55 1048.49 334.07 1049.37 336.59C1050.25 339.11 1051.13 341.64 1052.01 344.16C1052.89 346.68 1053.76 349.20 1054.64 351.72C1055.52 354.25 1056.39 356.77 1057.26 359.29C1058.14 361.81 1059.01 364.33 1059.89 366.85C1060.76 369.37 1061.63 371.89 1062.50 374.41C1063.38 376.93 1064.25 379.45 1065.12 381.97C1065.99 384.49 1066.87 387.01 1067.74 389.53C1068.61 392.05 1069.49 394.56 1070.36 397.08C1071.23 399.60 1072.11 402.12 1072.98 404.63C1073.86 407.15 1074.73 409.66 1075.61 412.18C1076.49 414.69 1077.37 417.21 1078.25 419.72C1079.13 422.23 1080.01 424.75 1080.89 427.26C1081.77 429.77 1082.65 432.28 1083.54 434.79C1084.42 437.30 1085.31 439.81 1086.20 442.32C1087.08 444.83 1087.97 447.34 1088.87 449.85C1089.76 452.35 1090.65 454.86 1091.55 457.36C1092.44 459.87 1093.34 462.37 1094.24 464.87C1095.14 467.38 1096.04 469.88 1096.95 472.38C1097.85 474.88 1098.76 477.38 1099.67 479.88C1100.58 482.38 1101.49 484.88 1102.41 487.37C1103.32 489.87 1104.24 492.36 1105.16 494.86C1106.08 497.35 1107.00 499.84 1107.93 502.33C1108.86 504.82 1109.79 507.31 1110.72 509.80C1111.65 512.29 1112.59 514.78 1113.53 517.26C1114.47 519.75 1115.41 522.23 1116.36 524.72C1117.30 527.20 1118.25 529.68 1119.21 532.16C1120.16 534.64 1121.12 537.11 1122.08 539.59C1123.04 542.07 1124.00 544.54 1124.97 547.01C1125.94 549.49 1126.91 551.96 1127.89 554.43C1128.87 556.90 1129.85 559.36 1130.83 561.83C1131.82 564.29 1132.81 566.76 1133.80 569.22C1134.80 571.68 1135.79 574.14 1136.80 576.60C1137.80 579.05 1138.81 581.51 1139.82 583.96C1140.83 586.42 1141.85 588.87 1142.87 591.32C1143.90 593.76 1145.44 597.43 1145.96 598.66"/>
<path stroke="#ff00ff" d="M831.67 594.74C831.71 593.41 831.80 589.43 831.87 586.78C831.93 584.12 831.99 581.47 832.06 578.82C832.12 576.16 832.19 573.51 832.25 570.86C832.32 568.21 832.39 565.55 832.45 562.90C832.52 560.25 832.58 557.60 832.65 554.95C832.72 552.29 832.79 549.64 832.85 546.99C832.92 544.34 832.99 541.69 833.06 539.04C833.12 536.39 833.19 533.74 833.26 531.09C833.33 528.44 833.40 525.79 833.47 523.14C833.54 520.49 833.61 517.84 833.68 515.19C833.75 512.54 833.82 509.89 833.90 507.24C833.97 504.59 834.04 501.95 834.11 499.30C834.18 496.65 834.26 494.00 834.33 491.36C834.41 488.71 834.48 486.06 834.55 483.41C834.63 480.77 834.70 478.12 834.78 475.48C834.86 472.83 834.93 470.18 835.01 467.54C835.09 464.89 835.16 462.25 835.24 459.60C835.32 456.96 835.40 454.32 835.48 451.67C835.56 449.03 835.64 446.38 835.72 443.74C835.80 441.10 835.88 438.46 835.96 435.81C836.04 433.17 836.13 430.53 836.21 427.89C836.29 425.25 836.38 422.61 836.46 419.97C836.55 417.33 836.63 414.69 836.72 412.05C836.81 409.41 836.89 406.77 836.98 404.13C837.07 401.49 837.16 398.85 837.25 396.22C837.34 393.58 837.43 390.94 837.52 388.31C837.62 385.67 837.71 383.03 837.80 380.40C837.90 377.76 837.99 375.13 838.09 372.50C838.19 369.86 838.28 367.23 838.38 364.60C838.48 361.96 838.58 359.33 838.68 356.70C838.78 354.07 838.89 351.44 838.99 348.81C839.09 346.18 839.20 343.55 839.31 340.93C839.41 338.30 839.52 335.67 839.63 333.05C839.74 330.42 839.85 327.80 839.97 325.17C840.08 322.55 840.19 319.93 840.31 317.31C840.43 314.69 840.55 312.07 840.67 309.45C840.79 306.83 840.91 304.21 841.03 301.60C841.16 298.98 841.29 296.36 841.42 293.75C841.55 291.14 841.68 288.53 841.81 285.92C841.95 283.31 842.08 280.70 842.22 278.10C842.37 275.49 842.51 272.89 842.66 270.29C842.80 267.68 842.95 265.09 843.11 262.49C843.26 259.89 843.42 257.30 843.58 254.71C843.74 252.12 843.91 249.53 844.08 246.95C844.25 244.37 844.42 241.79 844.61 239.21C844.79 236.64 844.97 234.07 845.17 231.50C845.36 228.94 845.56 226.38 845.77 223.83C845.98 221.28 846.20 218.73 846.42 216.20C846.65 213.66 846.89 211.13 847.14 208.62C847.39 206.11 847.65 203.60 847.93 201.12C848.21 198.64 848.50 196.16 848.82 193.73C849.14 191.29 849.47 188.86 849.85 186.50C850.23 184.14 850.62 181.77 851.10 179.56C851.58 177.35 852.04 175.02 852.73 173.24C853.43 171.45 853.68 167.16 855.27 168.85C856.87 170.54 860.84 179.54 862.31 183.40C863.79 187.26 863.59 189.18 864.15 192.00C864.71 194.82 865.20 197.58 865.69 200.34C866.17 203.10 866.62 205.83 867.06 208.56C867.51 211.29 867.92 214.01 868.34 216.72C868.75 219.43 869.14 222.13 869.53 224.83C869.92 227.53 870.30 230.22 870.67 232.91C871.05 235.60 871.41 238.29 871.77 240.97C872.13 243.65 872.48 246.33 872.83 249.01C873.18 251.69 873.52 254.36 873.87 257.04C874.21 259.71 874.54 262.38 874.88 265.05C875.21 267.72 875.54 270.39 875.87 273.06C876.20 275.72 876.52 278.39 876.85 281.05C877.17 283.72 877.49 286.38 877.81 289.04C878.13 291.70 878.45 294.36 878.76 297.02C879.08 299.68 879.39 302.34 879.70 305.00C880.02 307.66 880.33 310.32 880.64 312.97C880.95 315.63 881.26 318.29 881.57 320.94C881.88 323.60 882.19 326.25 882.50 328.90C882.80 331.56 883.11 334.21 883.42 336.86C883.72 339.52 884.03 342.17 884.34 344.82C884.64 347.47 884.95 350.12 885.25 352.77C885.56 355.42 885.86 358.07 886.17 360.72C886.47 363.37 886.78 366.02 887.08 368.67C887.39 371.31 887.70 373.96 888.00 376.61C888.31 379.25 888.61 381.90 888.92 384.55C889.22 387.19 889.53 389.84 889.84 392.48C890.14 395.13 890.45 397.77 890.76 400.42C891.07 403.06 891.37 405.71 891.68 408.35C891.99 410.99 892.30 413.64 892.61 416.28C892.92 418.92 893.23 421.56 893.54 424.21C893.86 426.85 894.17 429.49 894.48 432.13C894.79 434.77 895.11 437.41 895.42 440.05C895.74 442.69 896.05 445.33 896.37 447.97C896.69 450.61 897.00 453.25 897.32 455.89C897.64 458.52 897.96 461.16 898.28 463.80C898.60 466.44 898.92 469.08 899.25 471.71C899.57 474.35 899.90 476.98 900.22 479.62C900.55 482.26 900.87 484.89 901.20 487.53C901.53 490.16 901.86 492.80 902.19 495.43C902.52 498.06 902.86 500.70 903.19 503.33C903.53 505.96 903.86 508.60 904.20 511.23C904.54 513.86 904.88 516.49 905.22 519.12C905.56 521.76 905.90 524.39 906.24 527.02C906.59 529.65 906.93 532.28 907.28 534.91C907.63 537.54 907.98 540.17 908.33 542.79C908.68 545.42 909.04 548.05 909.39 550.68C909.75 553.31 910.11 555.93 910.47 558.56C910.82 561.19 911.19 563.81 911.55 566.44C911.91 569.06 912.28 571.69 912.65 574.31C913.02 576.94 913.39 579.56 913.76 582.18C914.14 584.81 914.51 587.43 914.89 590.05C915.27 592.67 915.84 596.60 916.03 597.91"/>
<path stroke="#008000" d="M861.76 594.74C861.84 593.41 862.08 589.44 862.25 586.79C862.42 584.14 862.58 581.49 862.75 578.84C862.91 576.19 863.08 573.54 863.25 570.89C863.42 568.24 863.59 565.59 863.76 562.94C863.93 560.29 864.10 557.64 864.27 554.99C864.44 552.35 864.61 549.70 864.78 547.05C864.96 544.40 865.13 541.76 865.31 539.11C865.48 536.46 865.66 533.81 865.83 531.17C866.01 528.52 866.19 525.88 866.37 523.23C866.54 520.58 866.72 517.94 866.90 515.29C867.09 512.65 867.27 510.00 867.45 507.36C867.63 504.71 867.82 502.07 868.00 499.43C868.19 496.78 868.37 494.14 868.56 491.50C868.75 488.85 868.93 486.21 869.12 483.57C869.31 480.93 869.50 478.29 869.70 475.64C869.89 473.00 870.08 470.36 870.28 467.72C870.47 465.08 870.67 462.44 870.87 459.80C871.06 457.16 871.26 454.52 871.46 451.88C871.66 449.24 871.87 446.61 872.07 443.97C872.27 441.33 872.48 438.69 872.69 436.06C872.89 433.42 873.10 430.78 873.31 428.15C873.52 425.51 873.74 422.88 873.95 420.24C874.16 417.61 874.38 414.98 874.60 412.34C874.82 409.71 875.04 407.08 875.26 404.44C875.48 401.81 875.71 399.18 875.93 396.55C876.16 393.92 876.39 391.29 876.62 388.66C876.85 386.03 877.08 383.40 877.32 380.77C877.55 378.15 877.79 375.52 878.03 372.89C878.28 370.27 878.52 367.64 878.77 365.02C879.01 362.39 879.26 359.77 879.51 357.15C879.77 354.53 880.02 351.91 880.28 349.29C880.54 346.67 880.80 344.05 881.07 341.43C881.33 338.81 881.60 336.19 881.87 333.58C882.15 330.96 882.42 328.35 882.70 325.73C882.98 323.12 883.27 320.51 883.56 317.90C883.84 315.29 884.14 312.68 884.44 310.08C884.73 307.47 885.04 304.86 885.34 302.26C885.65 299.66 885.96 297.06 886.28 294.46C886.60 291.86 886.93 289.26 887.26 286.67C887.59 284.07 887.92 281.48 888.27 278.89C888.61 276.30 888.96 273.71 889.32 271.13C889.68 268.55 890.04 265.96 890.42 263.39C890.79 260.81 891.18 258.24 891.57 255.67C891.96 253.10 892.37 250.53 892.78 247.97C893.19 245.41 893.62 242.86 894.06 240.31C894.50 237.76 894.94 235.21 895.41 232.68C895.88 230.14 896.36 227.61 896.86 225.09C897.35 222.57 897.87 220.06 898.41 217.56C898.95 215.06 899.50 212.57 900.09 210.10C900.68 207.63 901.29 205.17 901.93 202.74C902.58 200.30 903.26 197.88 903.99 195.50C904.72 193.12 905.47 190.76 906.32 188.46C907.16 186.16 908.03 183.88 909.04 181.72C910.04 179.57 911.08 177.40 912.36 175.54C913.63 173.67 914.92 171.65 916.71 170.53C918.49 169.42 920.68 168.18 923.04 168.83C925.40 169.47 928.72 172.24 930.88 174.43C933.05 176.62 934.50 179.42 936.03 181.95C937.56 184.48 938.81 187.04 940.06 189.60C941.31 192.15 942.43 194.72 943.53 197.28C944.63 199.85 945.66 202.42 946.67 204.99C947.67 207.56 948.63 210.14 949.57 212.71C950.52 215.29 951.42 217.86 952.31 220.44C953.21 223.02 954.07 225.60 954.92 228.18C955.78 230.76 956.61 233.34 957.43 235.92C958.26 238.50 959.06 241.08 959.86 243.66C960.66 246.25 961.44 248.83 962.22 251.41C963.00 253.99 963.76 256.58 964.52 259.16C965.28 261.74 966.03 264.33 966.78 266.91C967.52 269.50 968.26 272.08 968.99 274.66C969.73 277.25 970.45 279.83 971.18 282.42C971.90 285.00 972.62 287.59 973.33 290.17C974.04 292.75 974.75 295.34 975.46 297.92C976.17 300.51 976.87 303.09 977.57 305.67C978.27 308.26 978.97 310.84 979.66 313.43C980.36 316.01 981.05 318.59 981.74 321.18C982.43 323.76 983.12 326.34 983.80 328.92C984.49 331.51 985.18 334.09 985.86 336.67C986.54 339.25 987.23 341.84 987.91 344.42C988.59 347.00 989.27 349.58 989.95 352.16C990.63 354.74 991.31 357.32 991.99 359.90C992.67 362.48 993.35 365.06 994.03 367.64C994.70 370.22 995.38 372.80 996.06 375.38C996.74 377.96 997.42 380.54 998.09 383.11C998.77 385.69 999.45 388.27 1000.13 390.84C1000.81 393.42 1001.49 396.00 1002.17 398.57C1002.85 401.15 1003.53 403.72 1004.21 406.30C1004.90 408.87 1005.58 411.45 1006.26 414.02C1006.95 416.59 1007.63 419.17 1008.32 421.74C1009.00 424.31 1009.69 426.88 1010.38 429.45C1011.06 432.02 1011.75 434.59 1012.45 437.16C1013.14 439.73 1013.83 442.30 1014.52 444.87C1015.22 447.44 1015.91 450.00 1016.61 452.57C1017.31 455.14 1018.01 457.70 1018.71 460.27C1019.41 462.83 1020.11 465.40 1020.82 467.96C1021.52 470.52 1022.23 473.09 1022.94 475.65C1023.65 478.21 1024.36 480.77 1025.08 483.33C1025.79 485.89 1026.51 488.45 1027.23 491.01C1027.95 493.57 1028.67 496.12 1029.39 498.68C1030.12 501.24 1030.84 503.79 1031.57 506.34C1032.30 508.90 1033.04 511.45 1033.77 514.00C1034.51 516.56 1035.24 519.11 1035.99 521.66C1036.73 524.21 1037.47 526.76 1038.22 529.30C1038.97 531.85 1039.72 534.40 1040.47 536.94C1041.23 539.49 1041.98 542.03 1042.75 544.58C1043.51 547.12 1044.27 549.66 1045.04 552.20C1045.81 554.74 1046.58 557.28 1047.35 559.82C1048.13 562.35 1048.91 564.89 1049.69 567.43C1050.48 569.96 1051.26 572.49 1052.06 575.03C1052.85 577.56 1053.64 580.09 1054.44 582.62C1055.24 585.15 1056.05 587.67 1056.86 590.20C1057.66 592.72 1058.89 596.51 1059.29 597.77"/>
</g>
</g>
<g id="legend" font-size="77.4">
<line x1="1285.3" y1="642.5" x2="1439.7" y2="642.5" stroke="#000000" stroke-width="10.60" stroke-linecap="round"/>
<text x="1478.5" y="669.9">solvothermal</text>
<line x1="1285.3" y1="739.0" x2="1439.7" y2="739.0" stroke="#ff0000" stroke-width="10.60" stroke-linecap="round"/>
<text x="1478.5" y="766.4">in situ conversion</text>
<line x1="1285.3" y1="835.5" x2="1439.7" y2="835.5" stroke="#0000ff" stroke-width="10.60" stroke-linecap="round"/>
<text x="1478.5" y="862.9">solution combustion</text>
<line x1="1285.3" y1="932.0" x2="1439.7" y2="932.0" stroke="#ff00ff" stroke-width="10.60" stroke-linecap="round"/>
<text x="1478.5" y="959.4">precipitation</text>
<line x1="1285.3" y1="1028.5" x2="1439.7" y2="1028.5" stroke="#008000" stroke-width="10.60" stroke-linecap="round"/>
<text x="1478.5" y="1055.9">sol-gel</text>
</g>
</svg>
</body>
</html>
